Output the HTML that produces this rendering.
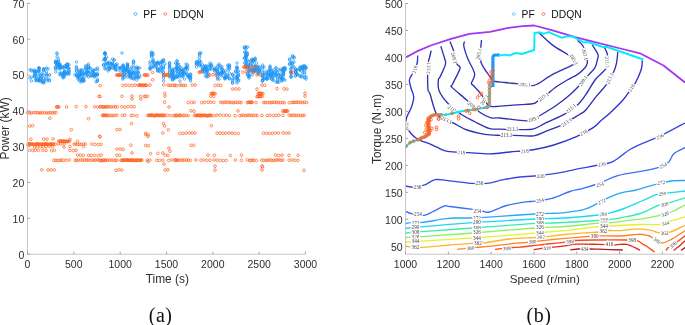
<!DOCTYPE html>
<html><head><meta charset="utf-8"><style>
html,body{margin:0;padding:0;background:#fff;width:685px;height:325px;overflow:hidden}
svg{display:block;will-change:transform}
</style></head><body>
<svg width="685" height="325" viewBox="0 0 685 325">
<rect width="685" height="325" fill="#fff"/>
<g fill="none" stroke="#1c94f4" stroke-width="0.7"><circle cx="29.9" cy="77.9" r="1.25"/><circle cx="31.5" cy="70.0" r="1.25"/><circle cx="30.0" cy="69.9" r="1.25"/><circle cx="31.6" cy="70.9" r="1.25"/><circle cx="31.6" cy="77.0" r="1.25"/><circle cx="31.4" cy="81.0" r="1.25"/><circle cx="34.4" cy="72.1" r="1.25"/><circle cx="34.5" cy="75.0" r="1.25"/><circle cx="34.4" cy="69.9" r="1.25"/><circle cx="34.5" cy="72.0" r="1.25"/><circle cx="34.5" cy="76.0" r="1.25"/><circle cx="34.5" cy="74.1" r="1.25"/><circle cx="34.5" cy="76.9" r="1.25"/><circle cx="34.6" cy="71.0" r="1.25"/><circle cx="36.0" cy="79.0" r="1.25"/><circle cx="37.5" cy="79.0" r="1.25"/><circle cx="36.0" cy="80.1" r="1.25"/><circle cx="36.0" cy="72.0" r="1.25"/><circle cx="37.6" cy="80.0" r="1.25"/><circle cx="36.0" cy="71.0" r="1.25"/><circle cx="35.9" cy="72.1" r="1.25"/><circle cx="35.9" cy="75.1" r="1.25"/><circle cx="36.0" cy="77.1" r="1.25"/><circle cx="37.6" cy="74.0" r="1.25"/><circle cx="36.1" cy="80.9" r="1.25"/><circle cx="38.9" cy="71.0" r="1.25"/><circle cx="39.0" cy="68.0" r="1.25"/><circle cx="39.0" cy="81.0" r="1.25"/><circle cx="39.0" cy="76.9" r="1.25"/><circle cx="39.1" cy="80.1" r="1.25"/><circle cx="39.0" cy="70.0" r="1.25"/><circle cx="38.9" cy="70.9" r="1.25"/><circle cx="38.9" cy="67.9" r="1.25"/><circle cx="39.0" cy="68.1" r="1.25"/><circle cx="38.9" cy="72.0" r="1.25"/><circle cx="38.9" cy="80.1" r="1.25"/><circle cx="39.0" cy="68.9" r="1.25"/><circle cx="39.0" cy="79.9" r="1.25"/><circle cx="40.6" cy="77.9" r="1.25"/><circle cx="40.4" cy="78.1" r="1.25"/><circle cx="42.0" cy="75.0" r="1.25"/><circle cx="40.6" cy="78.1" r="1.25"/><circle cx="40.4" cy="81.1" r="1.25"/><circle cx="42.1" cy="81.0" r="1.25"/><circle cx="40.5" cy="75.9" r="1.25"/><circle cx="40.5" cy="75.0" r="1.25"/><circle cx="42.0" cy="82.1" r="1.25"/><circle cx="42.0" cy="73.9" r="1.25"/><circle cx="40.4" cy="79.1" r="1.25"/><circle cx="43.5" cy="78.1" r="1.25"/><circle cx="43.5" cy="82.1" r="1.25"/><circle cx="43.5" cy="70.1" r="1.25"/><circle cx="43.6" cy="83.0" r="1.25"/><circle cx="43.6" cy="78.9" r="1.25"/><circle cx="43.4" cy="82.1" r="1.25"/><circle cx="43.5" cy="68.9" r="1.25"/><circle cx="43.5" cy="75.1" r="1.25"/><circle cx="43.6" cy="80.9" r="1.25"/><circle cx="43.5" cy="71.0" r="1.25"/><circle cx="43.5" cy="69.1" r="1.25"/><circle cx="46.5" cy="76.1" r="1.25"/><circle cx="46.6" cy="75.0" r="1.25"/><circle cx="46.4" cy="73.9" r="1.25"/><circle cx="45.1" cy="69.0" r="1.25"/><circle cx="46.5" cy="72.0" r="1.25"/><circle cx="46.6" cy="68.0" r="1.25"/><circle cx="46.5" cy="79.0" r="1.25"/><circle cx="46.6" cy="81.0" r="1.25"/><circle cx="49.5" cy="75.0" r="1.25"/><circle cx="49.5" cy="75.1" r="1.25"/><circle cx="49.6" cy="81.0" r="1.25"/><circle cx="49.6" cy="79.9" r="1.25"/><circle cx="48.0" cy="68.9" r="1.25"/><circle cx="48.0" cy="79.1" r="1.25"/><circle cx="55.5" cy="67.9" r="1.25"/><circle cx="55.6" cy="63.1" r="1.25"/><circle cx="55.5" cy="72.1" r="1.25"/><circle cx="55.5" cy="67.0" r="1.25"/><circle cx="55.5" cy="68.9" r="1.25"/><circle cx="55.5" cy="61.0" r="1.25"/><circle cx="55.5" cy="62.1" r="1.25"/><circle cx="55.6" cy="62.0" r="1.25"/><circle cx="57.1" cy="56.9" r="1.25"/><circle cx="58.6" cy="67.0" r="1.25"/><circle cx="57.1" cy="62.0" r="1.25"/><circle cx="56.9" cy="64.0" r="1.25"/><circle cx="57.1" cy="63.1" r="1.25"/><circle cx="57.1" cy="54.1" r="1.25"/><circle cx="58.5" cy="62.1" r="1.25"/><circle cx="56.9" cy="61.9" r="1.25"/><circle cx="56.9" cy="52.9" r="1.25"/><circle cx="57.0" cy="66.0" r="1.25"/><circle cx="58.4" cy="58.9" r="1.25"/><circle cx="56.9" cy="65.0" r="1.25"/><circle cx="57.0" cy="68.9" r="1.25"/><circle cx="58.5" cy="61.1" r="1.25"/><circle cx="58.5" cy="64.1" r="1.25"/><circle cx="58.6" cy="65.0" r="1.25"/><circle cx="60.0" cy="64.9" r="1.25"/><circle cx="60.0" cy="66.9" r="1.25"/><circle cx="60.1" cy="74.0" r="1.25"/><circle cx="59.9" cy="68.0" r="1.25"/><circle cx="60.0" cy="67.1" r="1.25"/><circle cx="61.5" cy="67.1" r="1.25"/><circle cx="60.0" cy="64.0" r="1.25"/><circle cx="60.0" cy="66.0" r="1.25"/><circle cx="58.5" cy="65.0" r="1.25"/><circle cx="59.9" cy="67.9" r="1.25"/><circle cx="60.0" cy="73.0" r="1.25"/><circle cx="60.1" cy="69.0" r="1.25"/><circle cx="61.4" cy="73.0" r="1.25"/><circle cx="60.1" cy="75.0" r="1.25"/><circle cx="60.1" cy="66.0" r="1.25"/><circle cx="63.1" cy="76.1" r="1.25"/><circle cx="64.6" cy="74.0" r="1.25"/><circle cx="62.9" cy="67.0" r="1.25"/><circle cx="63.1" cy="73.0" r="1.25"/><circle cx="64.5" cy="71.9" r="1.25"/><circle cx="64.5" cy="72.0" r="1.25"/><circle cx="64.4" cy="75.0" r="1.25"/><circle cx="63.0" cy="74.9" r="1.25"/><circle cx="64.6" cy="72.0" r="1.25"/><circle cx="63.0" cy="75.0" r="1.25"/><circle cx="64.4" cy="68.0" r="1.25"/><circle cx="64.5" cy="72.9" r="1.25"/><circle cx="63.0" cy="74.0" r="1.25"/><circle cx="62.9" cy="76.9" r="1.25"/><circle cx="64.6" cy="66.0" r="1.25"/><circle cx="64.6" cy="71.0" r="1.25"/><circle cx="63.1" cy="68.0" r="1.25"/><circle cx="63.0" cy="77.9" r="1.25"/><circle cx="64.5" cy="77.0" r="1.25"/><circle cx="67.6" cy="67.9" r="1.25"/><circle cx="66.0" cy="67.0" r="1.25"/><circle cx="66.0" cy="66.1" r="1.25"/><circle cx="66.1" cy="71.9" r="1.25"/><circle cx="69.0" cy="73.0" r="1.25"/><circle cx="67.5" cy="74.0" r="1.25"/><circle cx="67.5" cy="64.9" r="1.25"/><circle cx="66.1" cy="65.1" r="1.25"/><circle cx="67.5" cy="67.9" r="1.25"/><circle cx="67.6" cy="73.1" r="1.25"/><circle cx="69.1" cy="74.0" r="1.25"/><circle cx="68.9" cy="71.0" r="1.25"/><circle cx="69.0" cy="64.9" r="1.25"/><circle cx="68.9" cy="68.0" r="1.25"/><circle cx="69.0" cy="69.0" r="1.25"/><circle cx="67.4" cy="64.1" r="1.25"/><circle cx="67.4" cy="73.1" r="1.25"/><circle cx="67.4" cy="63.9" r="1.25"/><circle cx="67.4" cy="65.0" r="1.25"/><circle cx="69.1" cy="71.0" r="1.25"/><circle cx="67.5" cy="67.0" r="1.25"/><circle cx="66.0" cy="73.9" r="1.25"/><circle cx="76.5" cy="73.9" r="1.25"/><circle cx="76.4" cy="67.0" r="1.25"/><circle cx="76.6" cy="74.9" r="1.25"/><circle cx="75.0" cy="75.0" r="1.25"/><circle cx="76.4" cy="67.1" r="1.25"/><circle cx="76.6" cy="75.9" r="1.25"/><circle cx="76.4" cy="69.0" r="1.25"/><circle cx="76.5" cy="71.1" r="1.25"/><circle cx="76.5" cy="62.1" r="1.25"/><circle cx="76.6" cy="71.0" r="1.25"/><circle cx="78.0" cy="77.0" r="1.25"/><circle cx="77.9" cy="76.0" r="1.25"/><circle cx="79.4" cy="76.9" r="1.25"/><circle cx="78.0" cy="79.0" r="1.25"/><circle cx="79.5" cy="73.9" r="1.25"/><circle cx="79.5" cy="74.9" r="1.25"/><circle cx="79.5" cy="76.0" r="1.25"/><circle cx="79.6" cy="73.9" r="1.25"/><circle cx="78.0" cy="76.9" r="1.25"/><circle cx="81.0" cy="74.9" r="1.25"/><circle cx="81.0" cy="79.9" r="1.25"/><circle cx="79.6" cy="72.1" r="1.25"/><circle cx="80.9" cy="71.0" r="1.25"/><circle cx="81.1" cy="70.0" r="1.25"/><circle cx="79.6" cy="69.9" r="1.25"/><circle cx="79.5" cy="81.1" r="1.25"/><circle cx="81.1" cy="82.0" r="1.25"/><circle cx="79.6" cy="78.9" r="1.25"/><circle cx="81.0" cy="74.0" r="1.25"/><circle cx="79.4" cy="72.0" r="1.25"/><circle cx="83.9" cy="80.9" r="1.25"/><circle cx="82.6" cy="79.0" r="1.25"/><circle cx="82.5" cy="74.1" r="1.25"/><circle cx="82.5" cy="79.9" r="1.25"/><circle cx="82.6" cy="77.9" r="1.25"/><circle cx="82.4" cy="80.0" r="1.25"/><circle cx="82.6" cy="74.0" r="1.25"/><circle cx="84.0" cy="73.0" r="1.25"/><circle cx="82.5" cy="70.1" r="1.25"/><circle cx="84.0" cy="80.9" r="1.25"/><circle cx="82.5" cy="81.1" r="1.25"/><circle cx="82.5" cy="75.0" r="1.25"/><circle cx="83.9" cy="79.0" r="1.25"/><circle cx="84.1" cy="77.0" r="1.25"/><circle cx="82.5" cy="78.9" r="1.25"/><circle cx="82.6" cy="71.9" r="1.25"/><circle cx="85.5" cy="68.1" r="1.25"/><circle cx="90.1" cy="67.9" r="1.25"/><circle cx="85.5" cy="74.0" r="1.25"/><circle cx="87.0" cy="72.0" r="1.25"/><circle cx="88.6" cy="72.9" r="1.25"/><circle cx="88.5" cy="72.0" r="1.25"/><circle cx="88.4" cy="66.9" r="1.25"/><circle cx="87.1" cy="72.0" r="1.25"/><circle cx="87.1" cy="70.9" r="1.25"/><circle cx="88.5" cy="76.9" r="1.25"/><circle cx="87.1" cy="75.1" r="1.25"/><circle cx="85.5" cy="65.9" r="1.25"/><circle cx="90.0" cy="76.0" r="1.25"/><circle cx="90.0" cy="68.1" r="1.25"/><circle cx="89.9" cy="72.0" r="1.25"/><circle cx="87.0" cy="65.9" r="1.25"/><circle cx="87.0" cy="72.9" r="1.25"/><circle cx="85.5" cy="72.9" r="1.25"/><circle cx="86.9" cy="75.0" r="1.25"/><circle cx="85.4" cy="69.0" r="1.25"/><circle cx="88.4" cy="66.0" r="1.25"/><circle cx="87.0" cy="68.1" r="1.25"/><circle cx="87.0" cy="69.0" r="1.25"/><circle cx="88.6" cy="68.9" r="1.25"/><circle cx="88.4" cy="64.1" r="1.25"/><circle cx="93.1" cy="73.1" r="1.25"/><circle cx="92.9" cy="70.0" r="1.25"/><circle cx="93.1" cy="71.0" r="1.25"/><circle cx="93.0" cy="71.0" r="1.25"/><circle cx="93.1" cy="71.9" r="1.25"/><circle cx="94.6" cy="73.9" r="1.25"/><circle cx="94.5" cy="77.0" r="1.25"/><circle cx="94.4" cy="75.9" r="1.25"/><circle cx="93.1" cy="75.9" r="1.25"/><circle cx="91.5" cy="74.0" r="1.25"/><circle cx="91.4" cy="75.1" r="1.25"/><circle cx="91.5" cy="75.9" r="1.25"/><circle cx="94.4" cy="74.0" r="1.25"/><circle cx="97.5" cy="74.0" r="1.25"/><circle cx="96.0" cy="74.0" r="1.25"/><circle cx="94.5" cy="74.9" r="1.25"/><circle cx="97.6" cy="73.9" r="1.25"/><circle cx="95.9" cy="69.0" r="1.25"/><circle cx="96.0" cy="74.9" r="1.25"/><circle cx="97.4" cy="79.1" r="1.25"/><circle cx="95.9" cy="75.0" r="1.25"/><circle cx="97.4" cy="81.1" r="1.25"/><circle cx="97.6" cy="70.1" r="1.25"/><circle cx="96.1" cy="81.9" r="1.25"/><circle cx="97.6" cy="68.0" r="1.25"/><circle cx="97.4" cy="81.0" r="1.25"/><circle cx="97.4" cy="75.1" r="1.25"/><circle cx="96.0" cy="75.0" r="1.25"/><circle cx="94.4" cy="70.1" r="1.25"/><circle cx="103.6" cy="60.1" r="1.25"/><circle cx="103.5" cy="65.0" r="1.25"/><circle cx="103.5" cy="65.1" r="1.25"/><circle cx="103.6" cy="65.0" r="1.25"/><circle cx="106.5" cy="64.0" r="1.25"/><circle cx="105.1" cy="57.9" r="1.25"/><circle cx="106.4" cy="62.0" r="1.25"/><circle cx="105.1" cy="59.0" r="1.25"/><circle cx="104.9" cy="52.9" r="1.25"/><circle cx="105.0" cy="59.1" r="1.25"/><circle cx="104.9" cy="59.9" r="1.25"/><circle cx="105.0" cy="54.0" r="1.25"/><circle cx="105.0" cy="58.9" r="1.25"/><circle cx="105.0" cy="54.1" r="1.25"/><circle cx="104.9" cy="54.0" r="1.25"/><circle cx="106.6" cy="57.0" r="1.25"/><circle cx="105.0" cy="59.0" r="1.25"/><circle cx="105.0" cy="64.0" r="1.25"/><circle cx="105.1" cy="53.0" r="1.25"/><circle cx="104.9" cy="53.1" r="1.25"/><circle cx="105.0" cy="68.9" r="1.25"/><circle cx="105.0" cy="68.0" r="1.25"/><circle cx="106.4" cy="67.0" r="1.25"/><circle cx="108.1" cy="69.0" r="1.25"/><circle cx="109.5" cy="63.9" r="1.25"/><circle cx="107.9" cy="65.0" r="1.25"/><circle cx="109.6" cy="69.0" r="1.25"/><circle cx="109.5" cy="69.0" r="1.25"/><circle cx="108.0" cy="70.9" r="1.25"/><circle cx="110.9" cy="63.9" r="1.25"/><circle cx="111.0" cy="64.1" r="1.25"/><circle cx="109.5" cy="68.1" r="1.25"/><circle cx="109.6" cy="68.1" r="1.25"/><circle cx="109.5" cy="67.0" r="1.25"/><circle cx="108.0" cy="63.1" r="1.25"/><circle cx="107.9" cy="63.1" r="1.25"/><circle cx="109.4" cy="61.9" r="1.25"/><circle cx="109.5" cy="68.0" r="1.25"/><circle cx="112.5" cy="63.1" r="1.25"/><circle cx="114.1" cy="60.1" r="1.25"/><circle cx="114.1" cy="59.9" r="1.25"/><circle cx="112.4" cy="68.1" r="1.25"/><circle cx="114.1" cy="66.0" r="1.25"/><circle cx="112.4" cy="66.9" r="1.25"/><circle cx="112.5" cy="59.0" r="1.25"/><circle cx="112.5" cy="63.0" r="1.25"/><circle cx="114.0" cy="68.0" r="1.25"/><circle cx="112.5" cy="64.1" r="1.25"/><circle cx="112.5" cy="64.9" r="1.25"/><circle cx="116.9" cy="69.9" r="1.25"/><circle cx="115.4" cy="69.1" r="1.25"/><circle cx="115.5" cy="67.1" r="1.25"/><circle cx="115.5" cy="66.1" r="1.25"/><circle cx="115.6" cy="64.9" r="1.25"/><circle cx="117.0" cy="64.0" r="1.25"/><circle cx="115.6" cy="69.1" r="1.25"/><circle cx="117.0" cy="66.0" r="1.25"/><circle cx="115.5" cy="70.0" r="1.25"/><circle cx="115.6" cy="65.0" r="1.25"/><circle cx="120.1" cy="71.0" r="1.25"/><circle cx="120.0" cy="68.1" r="1.25"/><circle cx="120.0" cy="68.0" r="1.25"/><circle cx="119.9" cy="68.0" r="1.25"/><circle cx="120.1" cy="67.9" r="1.25"/><circle cx="123.0" cy="71.9" r="1.25"/><circle cx="122.9" cy="79.0" r="1.25"/><circle cx="123.1" cy="66.0" r="1.25"/><circle cx="124.6" cy="75.0" r="1.25"/><circle cx="123.0" cy="65.9" r="1.25"/><circle cx="122.9" cy="70.1" r="1.25"/><circle cx="124.5" cy="73.0" r="1.25"/><circle cx="123.0" cy="70.0" r="1.25"/><circle cx="122.9" cy="75.1" r="1.25"/><circle cx="124.5" cy="77.0" r="1.25"/><circle cx="124.5" cy="69.0" r="1.25"/><circle cx="123.0" cy="76.0" r="1.25"/><circle cx="124.5" cy="70.0" r="1.25"/><circle cx="124.5" cy="74.1" r="1.25"/><circle cx="123.1" cy="65.0" r="1.25"/><circle cx="123.1" cy="78.0" r="1.25"/><circle cx="123.0" cy="72.0" r="1.25"/><circle cx="123.1" cy="67.0" r="1.25"/><circle cx="123.1" cy="66.1" r="1.25"/><circle cx="122.9" cy="68.0" r="1.25"/><circle cx="126.0" cy="71.0" r="1.25"/><circle cx="126.0" cy="68.0" r="1.25"/><circle cx="127.5" cy="68.1" r="1.25"/><circle cx="127.4" cy="66.1" r="1.25"/><circle cx="127.5" cy="71.0" r="1.25"/><circle cx="126.1" cy="70.0" r="1.25"/><circle cx="127.6" cy="71.0" r="1.25"/><circle cx="127.4" cy="77.0" r="1.25"/><circle cx="127.5" cy="70.0" r="1.25"/><circle cx="127.4" cy="64.0" r="1.25"/><circle cx="125.9" cy="69.0" r="1.25"/><circle cx="127.5" cy="74.0" r="1.25"/><circle cx="127.6" cy="65.1" r="1.25"/><circle cx="127.6" cy="66.1" r="1.25"/><circle cx="127.4" cy="64.1" r="1.25"/><circle cx="127.5" cy="65.9" r="1.25"/><circle cx="126.1" cy="69.9" r="1.25"/><circle cx="127.6" cy="67.1" r="1.25"/><circle cx="130.6" cy="76.1" r="1.25"/><circle cx="130.6" cy="69.0" r="1.25"/><circle cx="130.5" cy="73.1" r="1.25"/><circle cx="130.5" cy="69.9" r="1.25"/><circle cx="130.4" cy="72.9" r="1.25"/><circle cx="130.5" cy="74.1" r="1.25"/><circle cx="129.1" cy="73.0" r="1.25"/><circle cx="130.6" cy="72.0" r="1.25"/><circle cx="130.4" cy="75.0" r="1.25"/><circle cx="129.0" cy="76.1" r="1.25"/><circle cx="129.1" cy="74.0" r="1.25"/><circle cx="130.4" cy="76.0" r="1.25"/><circle cx="129.1" cy="72.0" r="1.25"/><circle cx="130.5" cy="78.0" r="1.25"/><circle cx="133.5" cy="70.0" r="1.25"/><circle cx="133.6" cy="73.1" r="1.25"/><circle cx="133.5" cy="67.0" r="1.25"/><circle cx="133.6" cy="62.0" r="1.25"/><circle cx="133.5" cy="62.0" r="1.25"/><circle cx="131.9" cy="78.0" r="1.25"/><circle cx="133.6" cy="78.0" r="1.25"/><circle cx="133.5" cy="74.0" r="1.25"/><circle cx="133.4" cy="74.0" r="1.25"/><circle cx="133.4" cy="63.9" r="1.25"/><circle cx="133.6" cy="73.0" r="1.25"/><circle cx="133.6" cy="72.0" r="1.25"/><circle cx="132.0" cy="67.0" r="1.25"/><circle cx="131.9" cy="76.0" r="1.25"/><circle cx="133.5" cy="61.0" r="1.25"/><circle cx="133.6" cy="79.0" r="1.25"/><circle cx="136.4" cy="75.9" r="1.25"/><circle cx="136.4" cy="67.0" r="1.25"/><circle cx="136.6" cy="68.1" r="1.25"/><circle cx="136.4" cy="76.9" r="1.25"/><circle cx="137.9" cy="68.1" r="1.25"/><circle cx="138.1" cy="76.9" r="1.25"/><circle cx="138.0" cy="73.1" r="1.25"/><circle cx="136.6" cy="76.9" r="1.25"/><circle cx="135.0" cy="77.9" r="1.25"/><circle cx="136.5" cy="69.1" r="1.25"/><circle cx="137.9" cy="72.0" r="1.25"/><circle cx="136.5" cy="76.0" r="1.25"/><circle cx="136.6" cy="80.1" r="1.25"/><circle cx="138.0" cy="68.1" r="1.25"/><circle cx="138.1" cy="72.0" r="1.25"/><circle cx="139.6" cy="75.0" r="1.25"/><circle cx="136.6" cy="72.0" r="1.25"/><circle cx="138.1" cy="78.0" r="1.25"/><circle cx="135.0" cy="73.0" r="1.25"/><circle cx="139.6" cy="68.1" r="1.25"/><circle cx="139.6" cy="77.1" r="1.25"/><circle cx="136.4" cy="75.1" r="1.25"/><circle cx="150.1" cy="68.9" r="1.25"/><circle cx="150.0" cy="63.9" r="1.25"/><circle cx="150.1" cy="68.0" r="1.25"/><circle cx="150.1" cy="66.9" r="1.25"/><circle cx="150.1" cy="69.0" r="1.25"/><circle cx="150.0" cy="61.9" r="1.25"/><circle cx="151.5" cy="57.0" r="1.25"/><circle cx="151.5" cy="53.9" r="1.25"/><circle cx="153.0" cy="53.0" r="1.25"/><circle cx="152.9" cy="61.0" r="1.25"/><circle cx="151.4" cy="52.1" r="1.25"/><circle cx="153.0" cy="61.0" r="1.25"/><circle cx="153.0" cy="67.1" r="1.25"/><circle cx="153.1" cy="54.9" r="1.25"/><circle cx="151.4" cy="52.9" r="1.25"/><circle cx="153.1" cy="59.1" r="1.25"/><circle cx="151.6" cy="55.0" r="1.25"/><circle cx="153.1" cy="62.0" r="1.25"/><circle cx="151.4" cy="67.1" r="1.25"/><circle cx="151.4" cy="55.0" r="1.25"/><circle cx="153.1" cy="64.9" r="1.25"/><circle cx="156.0" cy="66.1" r="1.25"/><circle cx="154.4" cy="67.1" r="1.25"/><circle cx="154.5" cy="63.9" r="1.25"/><circle cx="154.4" cy="63.9" r="1.25"/><circle cx="155.9" cy="65.9" r="1.25"/><circle cx="154.6" cy="64.1" r="1.25"/><circle cx="156.1" cy="63.0" r="1.25"/><circle cx="157.6" cy="70.0" r="1.25"/><circle cx="157.5" cy="69.0" r="1.25"/><circle cx="157.4" cy="62.9" r="1.25"/><circle cx="159.0" cy="63.1" r="1.25"/><circle cx="157.5" cy="63.0" r="1.25"/><circle cx="159.0" cy="63.0" r="1.25"/><circle cx="157.6" cy="62.1" r="1.25"/><circle cx="157.6" cy="67.9" r="1.25"/><circle cx="157.5" cy="63.9" r="1.25"/><circle cx="157.6" cy="71.1" r="1.25"/><circle cx="157.5" cy="69.9" r="1.25"/><circle cx="159.0" cy="70.9" r="1.25"/><circle cx="162.0" cy="60.9" r="1.25"/><circle cx="162.0" cy="62.0" r="1.25"/><circle cx="161.9" cy="66.9" r="1.25"/><circle cx="160.6" cy="68.9" r="1.25"/><circle cx="160.4" cy="68.0" r="1.25"/><circle cx="162.0" cy="61.9" r="1.25"/><circle cx="162.0" cy="68.9" r="1.25"/><circle cx="162.0" cy="71.1" r="1.25"/><circle cx="160.4" cy="72.0" r="1.25"/><circle cx="162.0" cy="62.1" r="1.25"/><circle cx="160.4" cy="64.0" r="1.25"/><circle cx="160.5" cy="65.0" r="1.25"/><circle cx="163.5" cy="78.1" r="1.25"/><circle cx="163.5" cy="68.1" r="1.25"/><circle cx="163.6" cy="81.0" r="1.25"/><circle cx="163.5" cy="71.9" r="1.25"/><circle cx="164.9" cy="63.9" r="1.25"/><circle cx="163.6" cy="59.9" r="1.25"/><circle cx="163.4" cy="60.0" r="1.25"/><circle cx="163.5" cy="74.9" r="1.25"/><circle cx="163.5" cy="60.9" r="1.25"/><circle cx="163.5" cy="65.9" r="1.25"/><circle cx="163.4" cy="73.1" r="1.25"/><circle cx="163.5" cy="75.9" r="1.25"/><circle cx="163.6" cy="68.0" r="1.25"/><circle cx="169.5" cy="68.1" r="1.25"/><circle cx="169.5" cy="66.0" r="1.25"/><circle cx="169.6" cy="75.1" r="1.25"/><circle cx="169.6" cy="63.0" r="1.25"/><circle cx="169.6" cy="66.0" r="1.25"/><circle cx="169.5" cy="69.9" r="1.25"/><circle cx="169.5" cy="62.9" r="1.25"/><circle cx="171.1" cy="76.0" r="1.25"/><circle cx="169.6" cy="75.9" r="1.25"/><circle cx="169.5" cy="73.0" r="1.25"/><circle cx="169.6" cy="72.0" r="1.25"/><circle cx="169.5" cy="77.0" r="1.25"/><circle cx="169.5" cy="64.0" r="1.25"/><circle cx="169.5" cy="67.0" r="1.25"/><circle cx="172.4" cy="69.9" r="1.25"/><circle cx="172.5" cy="71.9" r="1.25"/><circle cx="172.5" cy="79.0" r="1.25"/><circle cx="172.5" cy="71.0" r="1.25"/><circle cx="172.5" cy="76.0" r="1.25"/><circle cx="172.4" cy="71.0" r="1.25"/><circle cx="172.5" cy="69.0" r="1.25"/><circle cx="173.9" cy="75.0" r="1.25"/><circle cx="172.6" cy="72.1" r="1.25"/><circle cx="172.4" cy="79.0" r="1.25"/><circle cx="172.5" cy="74.0" r="1.25"/><circle cx="172.4" cy="80.0" r="1.25"/><circle cx="172.5" cy="73.0" r="1.25"/><circle cx="174.1" cy="78.0" r="1.25"/><circle cx="174.0" cy="78.0" r="1.25"/><circle cx="174.0" cy="78.9" r="1.25"/><circle cx="173.9" cy="78.0" r="1.25"/><circle cx="172.6" cy="75.0" r="1.25"/><circle cx="174.1" cy="76.0" r="1.25"/><circle cx="172.5" cy="77.0" r="1.25"/><circle cx="177.0" cy="67.0" r="1.25"/><circle cx="177.1" cy="69.0" r="1.25"/><circle cx="175.5" cy="63.0" r="1.25"/><circle cx="176.9" cy="76.0" r="1.25"/><circle cx="178.6" cy="76.9" r="1.25"/><circle cx="177.1" cy="60.9" r="1.25"/><circle cx="177.0" cy="76.1" r="1.25"/><circle cx="177.1" cy="70.0" r="1.25"/><circle cx="177.1" cy="72.0" r="1.25"/><circle cx="175.5" cy="68.0" r="1.25"/><circle cx="177.1" cy="77.0" r="1.25"/><circle cx="177.0" cy="77.0" r="1.25"/><circle cx="177.1" cy="64.0" r="1.25"/><circle cx="178.6" cy="68.9" r="1.25"/><circle cx="178.5" cy="74.1" r="1.25"/><circle cx="178.5" cy="64.0" r="1.25"/><circle cx="177.0" cy="63.9" r="1.25"/><circle cx="177.0" cy="67.1" r="1.25"/><circle cx="176.9" cy="68.1" r="1.25"/><circle cx="177.0" cy="61.0" r="1.25"/><circle cx="178.5" cy="71.9" r="1.25"/><circle cx="177.0" cy="65.0" r="1.25"/><circle cx="175.4" cy="72.9" r="1.25"/><circle cx="175.4" cy="70.1" r="1.25"/><circle cx="180.1" cy="66.9" r="1.25"/><circle cx="181.5" cy="77.0" r="1.25"/><circle cx="180.0" cy="67.1" r="1.25"/><circle cx="180.0" cy="73.0" r="1.25"/><circle cx="180.1" cy="75.1" r="1.25"/><circle cx="180.0" cy="69.9" r="1.25"/><circle cx="181.6" cy="71.1" r="1.25"/><circle cx="181.5" cy="75.1" r="1.25"/><circle cx="180.1" cy="70.0" r="1.25"/><circle cx="181.4" cy="71.1" r="1.25"/><circle cx="180.1" cy="69.9" r="1.25"/><circle cx="179.9" cy="81.0" r="1.25"/><circle cx="179.9" cy="74.0" r="1.25"/><circle cx="182.9" cy="70.1" r="1.25"/><circle cx="182.9" cy="70.0" r="1.25"/><circle cx="182.9" cy="76.0" r="1.25"/><circle cx="183.0" cy="69.0" r="1.25"/><circle cx="184.4" cy="74.1" r="1.25"/><circle cx="184.4" cy="72.0" r="1.25"/><circle cx="183.1" cy="71.1" r="1.25"/><circle cx="182.9" cy="73.9" r="1.25"/><circle cx="184.5" cy="79.0" r="1.25"/><circle cx="182.9" cy="75.9" r="1.25"/><circle cx="184.4" cy="74.0" r="1.25"/><circle cx="183.1" cy="73.0" r="1.25"/><circle cx="183.0" cy="72.9" r="1.25"/><circle cx="183.1" cy="72.0" r="1.25"/><circle cx="183.0" cy="73.0" r="1.25"/><circle cx="185.9" cy="67.9" r="1.25"/><circle cx="186.0" cy="68.0" r="1.25"/><circle cx="187.6" cy="76.1" r="1.25"/><circle cx="186.0" cy="64.0" r="1.25"/><circle cx="187.5" cy="70.0" r="1.25"/><circle cx="187.4" cy="75.0" r="1.25"/><circle cx="187.4" cy="66.1" r="1.25"/><circle cx="187.5" cy="64.9" r="1.25"/><circle cx="185.9" cy="68.0" r="1.25"/><circle cx="186.0" cy="72.9" r="1.25"/><circle cx="187.5" cy="74.0" r="1.25"/><circle cx="186.0" cy="68.9" r="1.25"/><circle cx="187.6" cy="67.9" r="1.25"/><circle cx="186.1" cy="67.1" r="1.25"/><circle cx="190.4" cy="78.0" r="1.25"/><circle cx="190.6" cy="74.9" r="1.25"/><circle cx="190.5" cy="81.0" r="1.25"/><circle cx="190.6" cy="78.0" r="1.25"/><circle cx="189.0" cy="76.0" r="1.25"/><circle cx="190.4" cy="78.9" r="1.25"/><circle cx="190.6" cy="74.0" r="1.25"/><circle cx="190.5" cy="76.9" r="1.25"/><circle cx="189.0" cy="75.9" r="1.25"/><circle cx="188.9" cy="78.0" r="1.25"/><circle cx="188.9" cy="77.0" r="1.25"/><circle cx="190.5" cy="75.1" r="1.25"/><circle cx="196.5" cy="64.1" r="1.25"/><circle cx="196.6" cy="62.0" r="1.25"/><circle cx="196.5" cy="67.1" r="1.25"/><circle cx="196.5" cy="63.9" r="1.25"/><circle cx="196.5" cy="63.0" r="1.25"/><circle cx="196.4" cy="64.0" r="1.25"/><circle cx="196.4" cy="61.9" r="1.25"/><circle cx="198.1" cy="62.0" r="1.25"/><circle cx="201.0" cy="53.0" r="1.25"/><circle cx="199.4" cy="59.9" r="1.25"/><circle cx="201.0" cy="62.1" r="1.25"/><circle cx="199.5" cy="54.9" r="1.25"/><circle cx="199.6" cy="65.0" r="1.25"/><circle cx="199.5" cy="65.1" r="1.25"/><circle cx="199.4" cy="65.0" r="1.25"/><circle cx="199.5" cy="57.1" r="1.25"/><circle cx="199.4" cy="61.0" r="1.25"/><circle cx="201.0" cy="66.1" r="1.25"/><circle cx="199.5" cy="54.0" r="1.25"/><circle cx="199.4" cy="62.9" r="1.25"/><circle cx="199.6" cy="52.9" r="1.25"/><circle cx="202.4" cy="69.9" r="1.25"/><circle cx="204.1" cy="70.0" r="1.25"/><circle cx="202.5" cy="68.0" r="1.25"/><circle cx="202.5" cy="69.1" r="1.25"/><circle cx="203.9" cy="66.0" r="1.25"/><circle cx="202.5" cy="64.9" r="1.25"/><circle cx="202.5" cy="72.1" r="1.25"/><circle cx="204.1" cy="72.0" r="1.25"/><circle cx="203.9" cy="69.0" r="1.25"/><circle cx="202.5" cy="71.0" r="1.25"/><circle cx="207.0" cy="69.1" r="1.25"/><circle cx="205.4" cy="73.0" r="1.25"/><circle cx="205.5" cy="69.0" r="1.25"/><circle cx="207.0" cy="72.0" r="1.25"/><circle cx="205.4" cy="76.0" r="1.25"/><circle cx="205.6" cy="66.9" r="1.25"/><circle cx="207.0" cy="71.0" r="1.25"/><circle cx="205.5" cy="66.0" r="1.25"/><circle cx="206.9" cy="69.9" r="1.25"/><circle cx="207.1" cy="71.0" r="1.25"/><circle cx="206.9" cy="77.0" r="1.25"/><circle cx="205.6" cy="68.9" r="1.25"/><circle cx="208.5" cy="73.9" r="1.25"/><circle cx="206.9" cy="67.0" r="1.25"/><circle cx="205.5" cy="67.0" r="1.25"/><circle cx="207.0" cy="76.0" r="1.25"/><circle cx="208.5" cy="76.1" r="1.25"/><circle cx="205.5" cy="69.1" r="1.25"/><circle cx="207.1" cy="66.0" r="1.25"/><circle cx="207.1" cy="73.9" r="1.25"/><circle cx="211.4" cy="66.1" r="1.25"/><circle cx="210.1" cy="67.0" r="1.25"/><circle cx="210.0" cy="69.0" r="1.25"/><circle cx="209.9" cy="63.1" r="1.25"/><circle cx="210.0" cy="65.0" r="1.25"/><circle cx="209.9" cy="69.0" r="1.25"/><circle cx="211.6" cy="68.9" r="1.25"/><circle cx="209.9" cy="66.1" r="1.25"/><circle cx="211.4" cy="64.1" r="1.25"/><circle cx="211.5" cy="65.9" r="1.25"/><circle cx="216.0" cy="74.0" r="1.25"/><circle cx="214.5" cy="69.1" r="1.25"/><circle cx="215.9" cy="69.0" r="1.25"/><circle cx="214.5" cy="71.0" r="1.25"/><circle cx="214.5" cy="69.9" r="1.25"/><circle cx="214.6" cy="67.9" r="1.25"/><circle cx="216.0" cy="70.0" r="1.25"/><circle cx="217.5" cy="72.1" r="1.25"/><circle cx="218.9" cy="73.1" r="1.25"/><circle cx="219.1" cy="74.0" r="1.25"/><circle cx="217.5" cy="77.1" r="1.25"/><circle cx="219.0" cy="68.1" r="1.25"/><circle cx="219.0" cy="74.0" r="1.25"/><circle cx="219.0" cy="64.0" r="1.25"/><circle cx="217.6" cy="71.0" r="1.25"/><circle cx="217.4" cy="68.9" r="1.25"/><circle cx="219.0" cy="65.9" r="1.25"/><circle cx="217.5" cy="76.0" r="1.25"/><circle cx="219.0" cy="79.0" r="1.25"/><circle cx="217.4" cy="73.1" r="1.25"/><circle cx="217.6" cy="71.1" r="1.25"/><circle cx="217.5" cy="79.0" r="1.25"/><circle cx="217.4" cy="66.0" r="1.25"/><circle cx="221.9" cy="69.9" r="1.25"/><circle cx="222.1" cy="72.9" r="1.25"/><circle cx="222.1" cy="71.9" r="1.25"/><circle cx="222.1" cy="68.9" r="1.25"/><circle cx="220.5" cy="75.0" r="1.25"/><circle cx="221.9" cy="69.0" r="1.25"/><circle cx="222.0" cy="73.0" r="1.25"/><circle cx="220.5" cy="66.0" r="1.25"/><circle cx="222.0" cy="72.0" r="1.25"/><circle cx="221.9" cy="76.0" r="1.25"/><circle cx="221.9" cy="72.0" r="1.25"/><circle cx="221.9" cy="66.9" r="1.25"/><circle cx="221.9" cy="74.0" r="1.25"/><circle cx="225.0" cy="77.0" r="1.25"/><circle cx="225.1" cy="78.0" r="1.25"/><circle cx="225.1" cy="74.0" r="1.25"/><circle cx="225.1" cy="70.9" r="1.25"/><circle cx="225.0" cy="78.0" r="1.25"/><circle cx="226.4" cy="76.9" r="1.25"/><circle cx="223.4" cy="71.0" r="1.25"/><circle cx="224.9" cy="79.0" r="1.25"/><circle cx="224.9" cy="77.1" r="1.25"/><circle cx="224.9" cy="77.9" r="1.25"/><circle cx="226.5" cy="76.0" r="1.25"/><circle cx="225.0" cy="73.1" r="1.25"/><circle cx="228.0" cy="65.0" r="1.25"/><circle cx="229.6" cy="65.0" r="1.25"/><circle cx="229.6" cy="79.0" r="1.25"/><circle cx="228.0" cy="68.0" r="1.25"/><circle cx="227.9" cy="76.0" r="1.25"/><circle cx="229.6" cy="67.0" r="1.25"/><circle cx="228.1" cy="78.0" r="1.25"/><circle cx="229.6" cy="69.0" r="1.25"/><circle cx="229.5" cy="73.1" r="1.25"/><circle cx="228.1" cy="70.1" r="1.25"/><circle cx="229.4" cy="78.1" r="1.25"/><circle cx="229.4" cy="66.1" r="1.25"/><circle cx="228.1" cy="66.0" r="1.25"/><circle cx="227.9" cy="74.9" r="1.25"/><circle cx="232.6" cy="81.1" r="1.25"/><circle cx="233.9" cy="76.1" r="1.25"/><circle cx="233.9" cy="78.9" r="1.25"/><circle cx="232.4" cy="74.1" r="1.25"/><circle cx="232.6" cy="75.0" r="1.25"/><circle cx="232.5" cy="75.0" r="1.25"/><circle cx="232.5" cy="78.9" r="1.25"/><circle cx="232.5" cy="83.0" r="1.25"/><circle cx="232.6" cy="83.0" r="1.25"/><circle cx="236.9" cy="67.9" r="1.25"/><circle cx="235.5" cy="71.0" r="1.25"/><circle cx="236.9" cy="77.0" r="1.25"/><circle cx="237.0" cy="77.1" r="1.25"/><circle cx="238.5" cy="71.0" r="1.25"/><circle cx="237.1" cy="71.0" r="1.25"/><circle cx="236.9" cy="82.9" r="1.25"/><circle cx="237.1" cy="68.0" r="1.25"/><circle cx="236.9" cy="66.9" r="1.25"/><circle cx="238.6" cy="80.9" r="1.25"/><circle cx="238.5" cy="76.0" r="1.25"/><circle cx="237.1" cy="63.0" r="1.25"/><circle cx="238.5" cy="75.1" r="1.25"/><circle cx="237.0" cy="78.0" r="1.25"/><circle cx="238.5" cy="74.0" r="1.25"/><circle cx="237.0" cy="76.0" r="1.25"/><circle cx="237.0" cy="68.1" r="1.25"/><circle cx="237.0" cy="73.0" r="1.25"/><circle cx="236.9" cy="81.0" r="1.25"/><circle cx="237.0" cy="78.9" r="1.25"/><circle cx="235.6" cy="72.0" r="1.25"/><circle cx="238.6" cy="79.9" r="1.25"/><circle cx="237.1" cy="78.9" r="1.25"/><circle cx="244.5" cy="48.0" r="1.25"/><circle cx="246.0" cy="55.9" r="1.25"/><circle cx="246.1" cy="61.0" r="1.25"/><circle cx="246.1" cy="62.9" r="1.25"/><circle cx="246.0" cy="56.9" r="1.25"/><circle cx="246.0" cy="53.9" r="1.25"/><circle cx="244.5" cy="46.9" r="1.25"/><circle cx="246.0" cy="52.9" r="1.25"/><circle cx="247.4" cy="60.1" r="1.25"/><circle cx="244.5" cy="63.0" r="1.25"/><circle cx="245.9" cy="56.0" r="1.25"/><circle cx="246.0" cy="55.0" r="1.25"/><circle cx="247.5" cy="55.0" r="1.25"/><circle cx="247.4" cy="67.0" r="1.25"/><circle cx="246.0" cy="58.0" r="1.25"/><circle cx="247.6" cy="47.0" r="1.25"/><circle cx="246.0" cy="64.0" r="1.25"/><circle cx="246.1" cy="56.0" r="1.25"/><circle cx="245.9" cy="61.0" r="1.25"/><circle cx="246.1" cy="48.9" r="1.25"/><circle cx="244.6" cy="47.9" r="1.25"/><circle cx="246.0" cy="47.0" r="1.25"/><circle cx="246.0" cy="68.1" r="1.25"/><circle cx="247.4" cy="53.0" r="1.25"/><circle cx="244.6" cy="52.0" r="1.25"/><circle cx="246.0" cy="65.0" r="1.25"/><circle cx="247.6" cy="65.0" r="1.25"/><circle cx="244.4" cy="58.0" r="1.25"/><circle cx="246.0" cy="59.0" r="1.25"/><circle cx="245.9" cy="66.0" r="1.25"/><circle cx="244.5" cy="58.0" r="1.25"/><circle cx="246.0" cy="52.1" r="1.25"/><circle cx="249.0" cy="75.0" r="1.25"/><circle cx="249.1" cy="69.1" r="1.25"/><circle cx="247.5" cy="72.9" r="1.25"/><circle cx="248.9" cy="71.9" r="1.25"/><circle cx="249.0" cy="66.9" r="1.25"/><circle cx="248.9" cy="76.9" r="1.25"/><circle cx="247.4" cy="75.1" r="1.25"/><circle cx="249.0" cy="66.1" r="1.25"/><circle cx="248.9" cy="62.0" r="1.25"/><circle cx="247.6" cy="66.9" r="1.25"/><circle cx="249.0" cy="70.9" r="1.25"/><circle cx="249.0" cy="75.9" r="1.25"/><circle cx="249.1" cy="67.9" r="1.25"/><circle cx="249.0" cy="65.0" r="1.25"/><circle cx="247.5" cy="74.0" r="1.25"/><circle cx="248.9" cy="75.9" r="1.25"/><circle cx="249.1" cy="78.0" r="1.25"/><circle cx="248.9" cy="70.1" r="1.25"/><circle cx="252.0" cy="59.9" r="1.25"/><circle cx="252.1" cy="74.9" r="1.25"/><circle cx="251.9" cy="70.1" r="1.25"/><circle cx="252.1" cy="70.9" r="1.25"/><circle cx="252.0" cy="63.0" r="1.25"/><circle cx="250.6" cy="63.9" r="1.25"/><circle cx="251.9" cy="69.1" r="1.25"/><circle cx="252.0" cy="59.0" r="1.25"/><circle cx="250.5" cy="61.0" r="1.25"/><circle cx="252.0" cy="70.9" r="1.25"/><circle cx="250.6" cy="65.1" r="1.25"/><circle cx="252.0" cy="60.9" r="1.25"/><circle cx="251.9" cy="68.0" r="1.25"/><circle cx="255.0" cy="60.0" r="1.25"/><circle cx="253.4" cy="61.1" r="1.25"/><circle cx="255.1" cy="58.1" r="1.25"/><circle cx="255.1" cy="66.0" r="1.25"/><circle cx="253.6" cy="60.0" r="1.25"/><circle cx="253.5" cy="65.0" r="1.25"/><circle cx="256.4" cy="65.9" r="1.25"/><circle cx="255.1" cy="67.9" r="1.25"/><circle cx="253.5" cy="71.9" r="1.25"/><circle cx="255.0" cy="69.0" r="1.25"/><circle cx="255.0" cy="70.9" r="1.25"/><circle cx="256.5" cy="62.9" r="1.25"/><circle cx="253.5" cy="66.9" r="1.25"/><circle cx="253.4" cy="59.9" r="1.25"/><circle cx="253.6" cy="72.1" r="1.25"/><circle cx="255.0" cy="69.1" r="1.25"/><circle cx="255.1" cy="59.0" r="1.25"/><circle cx="253.4" cy="71.0" r="1.25"/><circle cx="254.9" cy="69.1" r="1.25"/><circle cx="256.5" cy="69.1" r="1.25"/><circle cx="255.0" cy="71.0" r="1.25"/><circle cx="256.4" cy="71.1" r="1.25"/><circle cx="253.6" cy="60.9" r="1.25"/><circle cx="259.4" cy="70.1" r="1.25"/><circle cx="259.5" cy="69.1" r="1.25"/><circle cx="259.5" cy="73.1" r="1.25"/><circle cx="257.9" cy="71.1" r="1.25"/><circle cx="258.0" cy="73.1" r="1.25"/><circle cx="258.0" cy="66.9" r="1.25"/><circle cx="259.5" cy="71.0" r="1.25"/><circle cx="257.9" cy="69.1" r="1.25"/><circle cx="259.5" cy="67.0" r="1.25"/><circle cx="259.5" cy="71.1" r="1.25"/><circle cx="258.0" cy="67.1" r="1.25"/><circle cx="258.0" cy="74.0" r="1.25"/><circle cx="262.6" cy="75.1" r="1.25"/><circle cx="262.5" cy="81.0" r="1.25"/><circle cx="263.9" cy="78.9" r="1.25"/><circle cx="262.4" cy="67.1" r="1.25"/><circle cx="262.6" cy="69.0" r="1.25"/><circle cx="262.5" cy="80.0" r="1.25"/><circle cx="262.6" cy="80.0" r="1.25"/><circle cx="262.5" cy="72.1" r="1.25"/><circle cx="262.5" cy="76.0" r="1.25"/><circle cx="262.6" cy="65.1" r="1.25"/><circle cx="264.0" cy="72.1" r="1.25"/><circle cx="264.0" cy="77.9" r="1.25"/><circle cx="262.4" cy="81.1" r="1.25"/><circle cx="262.5" cy="74.9" r="1.25"/><circle cx="264.0" cy="74.0" r="1.25"/><circle cx="264.0" cy="79.0" r="1.25"/><circle cx="262.6" cy="77.0" r="1.25"/><circle cx="262.4" cy="75.1" r="1.25"/><circle cx="264.0" cy="67.0" r="1.25"/><circle cx="266.9" cy="77.9" r="1.25"/><circle cx="266.9" cy="73.0" r="1.25"/><circle cx="268.6" cy="72.0" r="1.25"/><circle cx="268.4" cy="74.0" r="1.25"/><circle cx="265.5" cy="75.0" r="1.25"/><circle cx="268.5" cy="72.1" r="1.25"/><circle cx="267.1" cy="77.1" r="1.25"/><circle cx="266.9" cy="79.0" r="1.25"/><circle cx="267.0" cy="79.0" r="1.25"/><circle cx="267.1" cy="76.0" r="1.25"/><circle cx="267.0" cy="78.9" r="1.25"/><circle cx="267.0" cy="74.1" r="1.25"/><circle cx="266.9" cy="71.0" r="1.25"/><circle cx="270.0" cy="71.1" r="1.25"/><circle cx="270.0" cy="74.1" r="1.25"/><circle cx="270.0" cy="76.0" r="1.25"/><circle cx="270.0" cy="70.0" r="1.25"/><circle cx="270.0" cy="68.1" r="1.25"/><circle cx="270.0" cy="75.1" r="1.25"/><circle cx="270.0" cy="66.0" r="1.25"/><circle cx="270.1" cy="75.0" r="1.25"/><circle cx="270.0" cy="69.1" r="1.25"/><circle cx="270.1" cy="67.0" r="1.25"/><circle cx="270.0" cy="78.1" r="1.25"/><circle cx="270.1" cy="75.1" r="1.25"/><circle cx="271.5" cy="79.0" r="1.25"/><circle cx="272.9" cy="77.1" r="1.25"/><circle cx="272.9" cy="72.9" r="1.25"/><circle cx="273.1" cy="80.0" r="1.25"/><circle cx="272.9" cy="80.0" r="1.25"/><circle cx="271.5" cy="72.0" r="1.25"/><circle cx="271.5" cy="77.1" r="1.25"/><circle cx="271.6" cy="70.9" r="1.25"/><circle cx="273.0" cy="74.0" r="1.25"/><circle cx="273.1" cy="73.1" r="1.25"/><circle cx="273.0" cy="70.1" r="1.25"/><circle cx="271.5" cy="74.9" r="1.25"/><circle cx="273.0" cy="77.0" r="1.25"/><circle cx="273.0" cy="73.1" r="1.25"/><circle cx="279.1" cy="82.0" r="1.25"/><circle cx="278.9" cy="74.9" r="1.25"/><circle cx="277.5" cy="78.0" r="1.25"/><circle cx="275.9" cy="74.0" r="1.25"/><circle cx="276.0" cy="75.0" r="1.25"/><circle cx="276.0" cy="71.0" r="1.25"/><circle cx="277.5" cy="82.0" r="1.25"/><circle cx="279.1" cy="78.0" r="1.25"/><circle cx="275.9" cy="68.1" r="1.25"/><circle cx="277.5" cy="72.0" r="1.25"/><circle cx="276.0" cy="82.0" r="1.25"/><circle cx="275.9" cy="73.1" r="1.25"/><circle cx="279.0" cy="69.9" r="1.25"/><circle cx="276.1" cy="75.1" r="1.25"/><circle cx="279.1" cy="75.1" r="1.25"/><circle cx="275.9" cy="76.0" r="1.25"/><circle cx="276.0" cy="68.1" r="1.25"/><circle cx="277.6" cy="82.0" r="1.25"/><circle cx="277.5" cy="80.1" r="1.25"/><circle cx="275.9" cy="71.0" r="1.25"/><circle cx="281.9" cy="79.1" r="1.25"/><circle cx="281.9" cy="80.0" r="1.25"/><circle cx="280.5" cy="76.1" r="1.25"/><circle cx="282.0" cy="69.9" r="1.25"/><circle cx="285.0" cy="69.0" r="1.25"/><circle cx="280.4" cy="74.0" r="1.25"/><circle cx="283.5" cy="73.9" r="1.25"/><circle cx="283.4" cy="74.0" r="1.25"/><circle cx="283.5" cy="71.0" r="1.25"/><circle cx="283.5" cy="69.1" r="1.25"/><circle cx="283.4" cy="71.1" r="1.25"/><circle cx="282.0" cy="78.1" r="1.25"/><circle cx="283.5" cy="67.9" r="1.25"/><circle cx="285.1" cy="67.9" r="1.25"/><circle cx="282.1" cy="71.0" r="1.25"/><circle cx="285.0" cy="80.0" r="1.25"/><circle cx="280.4" cy="77.9" r="1.25"/><circle cx="285.0" cy="70.1" r="1.25"/><circle cx="280.5" cy="69.1" r="1.25"/><circle cx="285.1" cy="68.1" r="1.25"/><circle cx="283.6" cy="74.0" r="1.25"/><circle cx="283.6" cy="68.9" r="1.25"/><circle cx="283.5" cy="72.9" r="1.25"/><circle cx="283.4" cy="79.1" r="1.25"/><circle cx="281.9" cy="76.9" r="1.25"/><circle cx="281.9" cy="81.0" r="1.25"/><circle cx="281.9" cy="78.1" r="1.25"/><circle cx="283.4" cy="73.0" r="1.25"/><circle cx="283.4" cy="76.1" r="1.25"/><circle cx="283.4" cy="68.9" r="1.25"/><circle cx="291.0" cy="68.0" r="1.25"/><circle cx="291.0" cy="71.1" r="1.25"/><circle cx="291.1" cy="76.1" r="1.25"/><circle cx="290.9" cy="72.1" r="1.25"/><circle cx="291.1" cy="62.1" r="1.25"/><circle cx="291.0" cy="63.0" r="1.25"/><circle cx="289.5" cy="60.0" r="1.25"/><circle cx="291.0" cy="77.1" r="1.25"/><circle cx="291.1" cy="73.0" r="1.25"/><circle cx="289.5" cy="58.9" r="1.25"/><circle cx="291.1" cy="65.1" r="1.25"/><circle cx="291.1" cy="74.0" r="1.25"/><circle cx="289.6" cy="64.0" r="1.25"/><circle cx="291.0" cy="76.9" r="1.25"/><circle cx="291.0" cy="69.1" r="1.25"/><circle cx="291.1" cy="72.1" r="1.25"/><circle cx="289.4" cy="64.1" r="1.25"/><circle cx="292.5" cy="64.1" r="1.25"/><circle cx="292.5" cy="63.0" r="1.25"/><circle cx="294.1" cy="57.0" r="1.25"/><circle cx="292.5" cy="56.0" r="1.25"/><circle cx="294.0" cy="62.0" r="1.25"/><circle cx="294.0" cy="57.9" r="1.25"/><circle cx="292.4" cy="57.9" r="1.25"/><circle cx="292.5" cy="67.0" r="1.25"/><circle cx="292.6" cy="55.9" r="1.25"/><circle cx="293.9" cy="67.0" r="1.25"/><circle cx="296.9" cy="74.9" r="1.25"/><circle cx="297.1" cy="74.0" r="1.25"/><circle cx="295.4" cy="75.9" r="1.25"/><circle cx="297.0" cy="73.9" r="1.25"/><circle cx="295.4" cy="76.0" r="1.25"/><circle cx="297.0" cy="69.9" r="1.25"/><circle cx="295.6" cy="69.1" r="1.25"/><circle cx="295.5" cy="69.1" r="1.25"/><circle cx="295.5" cy="71.9" r="1.25"/><circle cx="295.6" cy="71.0" r="1.25"/><circle cx="296.9" cy="69.9" r="1.25"/><circle cx="295.5" cy="73.0" r="1.25"/><circle cx="296.9" cy="74.1" r="1.25"/><circle cx="295.4" cy="71.9" r="1.25"/><circle cx="300.0" cy="67.9" r="1.25"/><circle cx="299.9" cy="69.0" r="1.25"/><circle cx="299.9" cy="70.0" r="1.25"/><circle cx="301.5" cy="66.9" r="1.25"/><circle cx="301.5" cy="76.1" r="1.25"/><circle cx="301.4" cy="77.0" r="1.25"/><circle cx="299.9" cy="75.9" r="1.25"/><circle cx="300.0" cy="76.0" r="1.25"/><circle cx="301.4" cy="71.0" r="1.25"/><circle cx="300.0" cy="69.9" r="1.25"/><circle cx="301.5" cy="67.9" r="1.25"/><circle cx="300.0" cy="67.0" r="1.25"/><circle cx="304.5" cy="68.0" r="1.25"/><circle cx="304.5" cy="66.1" r="1.25"/><circle cx="306.0" cy="77.0" r="1.25"/><circle cx="305.9" cy="68.0" r="1.25"/><circle cx="305.9" cy="66.9" r="1.25"/><circle cx="304.4" cy="67.0" r="1.25"/><circle cx="304.6" cy="70.0" r="1.25"/><circle cx="303.1" cy="68.0" r="1.25"/><circle cx="304.6" cy="72.1" r="1.25"/><circle cx="304.4" cy="76.9" r="1.25"/><circle cx="306.0" cy="68.1" r="1.25"/><circle cx="303.0" cy="69.0" r="1.25"/><circle cx="303.0" cy="67.1" r="1.25"/><circle cx="303.0" cy="68.0" r="1.25"/><circle cx="304.5" cy="65.9" r="1.25"/><circle cx="303.1" cy="65.9" r="1.25"/><circle cx="304.5" cy="77.9" r="1.25"/><circle cx="302.9" cy="73.0" r="1.25"/><circle cx="304.6" cy="74.1" r="1.25"/><circle cx="306.0" cy="79.0" r="1.25"/><circle cx="122.0" cy="53.0" r="1.25"/></g>
<g fill="none" stroke="#ff5f1c" stroke-width="0.7"><circle cx="243.7" cy="67.2" r="1.35"/><circle cx="244.6" cy="66.7" r="1.35"/><circle cx="245.5" cy="66.9" r="1.35"/><circle cx="246.7" cy="67.2" r="1.35"/><circle cx="247.2" cy="67.0" r="1.35"/><circle cx="248.2" cy="67.2" r="1.35"/><circle cx="253.1" cy="67.0" r="1.35"/><circle cx="255.8" cy="66.8" r="1.35"/><circle cx="199.1" cy="72.1" r="1.35"/><circle cx="200.0" cy="72.2" r="1.35"/><circle cx="200.9" cy="71.8" r="1.35"/><circle cx="242.7" cy="72.2" r="1.35"/><circle cx="246.0" cy="71.8" r="1.35"/><circle cx="251.1" cy="71.9" r="1.35"/><circle cx="253.8" cy="71.9" r="1.35"/><circle cx="291.0" cy="72.1" r="1.35"/><circle cx="293.7" cy="72.1" r="1.35"/><circle cx="152.7" cy="72.4" r="1.35"/><circle cx="116.6" cy="75.1" r="1.35"/><circle cx="117.6" cy="74.7" r="1.35"/><circle cx="118.2" cy="75.1" r="1.35"/><circle cx="119.1" cy="75.1" r="1.35"/><circle cx="119.6" cy="75.3" r="1.35"/><circle cx="120.8" cy="74.8" r="1.35"/><circle cx="121.4" cy="75.3" r="1.35"/><circle cx="163.6" cy="74.9" r="1.35"/><circle cx="164.9" cy="75.2" r="1.35"/><circle cx="165.2" cy="75.1" r="1.35"/><circle cx="166.1" cy="75.1" r="1.35"/><circle cx="167.2" cy="74.8" r="1.35"/><circle cx="167.6" cy="74.8" r="1.35"/><circle cx="168.5" cy="74.7" r="1.35"/><circle cx="209.8" cy="74.9" r="1.35"/><circle cx="213.0" cy="74.7" r="1.35"/><circle cx="216.0" cy="75.3" r="1.35"/><circle cx="257.0" cy="74.9" r="1.35"/><circle cx="260.1" cy="75.0" r="1.35"/><circle cx="144.2" cy="75.0" r="1.35"/><circle cx="144.9" cy="75.1" r="1.35"/><circle cx="145.8" cy="74.9" r="1.35"/><circle cx="147.1" cy="75.2" r="1.35"/><circle cx="147.8" cy="75.1" r="1.35"/><circle cx="152.7" cy="79.8" r="1.35"/><circle cx="100.1" cy="85.6" r="1.35"/><circle cx="122.8" cy="85.5" r="1.35"/><circle cx="125.9" cy="85.2" r="1.35"/><circle cx="129.2" cy="85.4" r="1.35"/><circle cx="132.2" cy="85.5" r="1.35"/><circle cx="135.1" cy="85.1" r="1.35"/><circle cx="138.2" cy="85.3" r="1.35"/><circle cx="139.4" cy="85.2" r="1.35"/><circle cx="139.8" cy="85.0" r="1.35"/><circle cx="140.7" cy="85.4" r="1.35"/><circle cx="141.4" cy="85.1" r="1.35"/><circle cx="142.4" cy="85.4" r="1.35"/><circle cx="143.6" cy="85.0" r="1.35"/><circle cx="143.9" cy="85.6" r="1.35"/><circle cx="145.2" cy="85.1" r="1.35"/><circle cx="145.6" cy="85.3" r="1.35"/><circle cx="146.9" cy="85.3" r="1.35"/><circle cx="150.0" cy="85.2" r="1.35"/><circle cx="163.8" cy="84.9" r="1.35"/><circle cx="168.2" cy="85.1" r="1.35"/><circle cx="170.1" cy="85.4" r="1.35"/><circle cx="172.3" cy="85.2" r="1.35"/><circle cx="174.3" cy="85.4" r="1.35"/><circle cx="174.9" cy="85.3" r="1.35"/><circle cx="176.7" cy="85.6" r="1.35"/><circle cx="180.0" cy="85.0" r="1.35"/><circle cx="181.7" cy="85.4" r="1.35"/><circle cx="183.7" cy="85.4" r="1.35"/><circle cx="185.5" cy="85.5" r="1.35"/><circle cx="192.2" cy="85.1" r="1.35"/><circle cx="195.1" cy="85.1" r="1.35"/><circle cx="215.1" cy="85.5" r="1.35"/><circle cx="218.2" cy="85.1" r="1.35"/><circle cx="220.8" cy="85.4" r="1.35"/><circle cx="262.0" cy="85.1" r="1.35"/><circle cx="264.8" cy="85.3" r="1.35"/><circle cx="232.8" cy="89.1" r="1.35"/><circle cx="235.8" cy="88.9" r="1.35"/><circle cx="239.0" cy="89.0" r="1.35"/><circle cx="257.0" cy="89.2" r="1.35"/><circle cx="277.0" cy="88.6" r="1.35"/><circle cx="284.1" cy="88.8" r="1.35"/><circle cx="286.9" cy="89.1" r="1.35"/><circle cx="211.1" cy="93.6" r="1.35"/><circle cx="212.0" cy="93.3" r="1.35"/><circle cx="212.5" cy="93.6" r="1.35"/><circle cx="213.3" cy="93.3" r="1.35"/><circle cx="214.0" cy="93.7" r="1.35"/><circle cx="215.2" cy="93.6" r="1.35"/><circle cx="258.3" cy="93.7" r="1.35"/><circle cx="258.7" cy="93.4" r="1.35"/><circle cx="259.7" cy="93.2" r="1.35"/><circle cx="260.5" cy="93.3" r="1.35"/><circle cx="260.9" cy="93.5" r="1.35"/><circle cx="261.8" cy="93.8" r="1.35"/><circle cx="263.0" cy="93.5" r="1.35"/><circle cx="164.7" cy="93.3" r="1.35"/><circle cx="305.0" cy="93.2" r="1.35"/><circle cx="99.0" cy="96.4" r="1.35"/><circle cx="100.0" cy="96.4" r="1.35"/><circle cx="122.0" cy="96.3" r="1.35"/><circle cx="144.5" cy="96.4" r="1.35"/><circle cx="147.6" cy="96.2" r="1.35"/><circle cx="132.0" cy="96.1" r="1.35"/><circle cx="140.6" cy="96.3" r="1.35"/><circle cx="145.5" cy="96.4" r="1.35"/><circle cx="165.0" cy="96.2" r="1.35"/><circle cx="210.8" cy="96.2" r="1.35"/><circle cx="213.6" cy="96.4" r="1.35"/><circle cx="257.1" cy="96.6" r="1.35"/><circle cx="257.7" cy="96.4" r="1.35"/><circle cx="258.9" cy="96.7" r="1.35"/><circle cx="259.5" cy="96.2" r="1.35"/><circle cx="260.2" cy="96.5" r="1.35"/><circle cx="260.9" cy="96.1" r="1.35"/><circle cx="262.1" cy="96.6" r="1.35"/><circle cx="305.0" cy="96.1" r="1.35"/><circle cx="132.0" cy="99.0" r="1.35"/><circle cx="140.7" cy="99.1" r="1.35"/><circle cx="164.5" cy="102.2" r="1.35"/><circle cx="188.2" cy="102.6" r="1.35"/><circle cx="191.7" cy="102.4" r="1.35"/><circle cx="194.3" cy="102.3" r="1.35"/><circle cx="201.8" cy="102.7" r="1.35"/><circle cx="204.7" cy="102.3" r="1.35"/><circle cx="208.2" cy="102.2" r="1.35"/><circle cx="210.8" cy="102.1" r="1.35"/><circle cx="213.8" cy="102.4" r="1.35"/><circle cx="220.7" cy="102.2" r="1.35"/><circle cx="222.2" cy="102.6" r="1.35"/><circle cx="224.3" cy="102.3" r="1.35"/><circle cx="226.0" cy="102.2" r="1.35"/><circle cx="228.4" cy="102.2" r="1.35"/><circle cx="229.9" cy="102.5" r="1.35"/><circle cx="232.1" cy="102.6" r="1.35"/><circle cx="233.8" cy="102.7" r="1.35"/><circle cx="235.8" cy="102.3" r="1.35"/><circle cx="237.6" cy="102.5" r="1.35"/><circle cx="239.6" cy="102.2" r="1.35"/><circle cx="241.2" cy="102.7" r="1.35"/><circle cx="247.4" cy="102.6" r="1.35"/><circle cx="248.3" cy="102.2" r="1.35"/><circle cx="249.1" cy="102.4" r="1.35"/><circle cx="250.3" cy="102.2" r="1.35"/><circle cx="251.0" cy="102.3" r="1.35"/><circle cx="251.4" cy="102.5" r="1.35"/><circle cx="252.3" cy="102.2" r="1.35"/><circle cx="256.0" cy="102.6" r="1.35"/><circle cx="263.6" cy="102.4" r="1.35"/><circle cx="265.0" cy="102.6" r="1.35"/><circle cx="267.3" cy="102.6" r="1.35"/><circle cx="269.4" cy="102.3" r="1.35"/><circle cx="271.2" cy="102.6" r="1.35"/><circle cx="272.8" cy="102.3" r="1.35"/><circle cx="274.7" cy="102.3" r="1.35"/><circle cx="276.6" cy="102.2" r="1.35"/><circle cx="278.4" cy="102.6" r="1.35"/><circle cx="280.4" cy="102.5" r="1.35"/><circle cx="282.6" cy="102.6" r="1.35"/><circle cx="284.1" cy="102.7" r="1.35"/><circle cx="289.2" cy="102.7" r="1.35"/><circle cx="292.1" cy="102.6" r="1.35"/><circle cx="293.2" cy="102.3" r="1.35"/><circle cx="295.0" cy="102.3" r="1.35"/><circle cx="297.0" cy="102.2" r="1.35"/><circle cx="298.7" cy="102.3" r="1.35"/><circle cx="300.8" cy="102.3" r="1.35"/><circle cx="302.7" cy="102.6" r="1.35"/><circle cx="304.6" cy="102.2" r="1.35"/><circle cx="306.6" cy="102.5" r="1.35"/><circle cx="56.6" cy="106.9" r="1.35"/><circle cx="57.0" cy="107.0" r="1.35"/><circle cx="58.1" cy="106.8" r="1.35"/><circle cx="58.8" cy="107.0" r="1.35"/><circle cx="66.6" cy="107.0" r="1.35"/><circle cx="76.2" cy="106.6" r="1.35"/><circle cx="85.9" cy="106.6" r="1.35"/><circle cx="94.5" cy="106.7" r="1.35"/><circle cx="97.4" cy="107.0" r="1.35"/><circle cx="100.5" cy="106.5" r="1.35"/><circle cx="103.4" cy="106.9" r="1.35"/><circle cx="106.5" cy="106.8" r="1.35"/><circle cx="99.9" cy="107.0" r="1.35"/><circle cx="102.2" cy="106.7" r="1.35"/><circle cx="103.9" cy="107.0" r="1.35"/><circle cx="105.7" cy="107.0" r="1.35"/><circle cx="107.7" cy="106.7" r="1.35"/><circle cx="109.7" cy="106.8" r="1.35"/><circle cx="111.2" cy="106.9" r="1.35"/><circle cx="113.5" cy="106.8" r="1.35"/><circle cx="115.2" cy="106.7" r="1.35"/><circle cx="117.3" cy="106.9" r="1.35"/><circle cx="121.8" cy="106.7" r="1.35"/><circle cx="124.9" cy="107.1" r="1.35"/><circle cx="128.1" cy="106.6" r="1.35"/><circle cx="131.2" cy="106.5" r="1.35"/><circle cx="134.1" cy="106.8" r="1.35"/><circle cx="169.0" cy="107.0" r="1.35"/><circle cx="191.0" cy="110.8" r="1.35"/><circle cx="194.0" cy="111.2" r="1.35"/><circle cx="238.0" cy="110.9" r="1.35"/><circle cx="282.8" cy="111.1" r="1.35"/><circle cx="284.0" cy="110.8" r="1.35"/><circle cx="284.8" cy="111.3" r="1.35"/><circle cx="285.4" cy="110.9" r="1.35"/><circle cx="286.3" cy="111.3" r="1.35"/><circle cx="286.8" cy="110.9" r="1.35"/><circle cx="287.7" cy="111.1" r="1.35"/><circle cx="27.3" cy="112.7" r="1.35"/><circle cx="29.4" cy="112.8" r="1.35"/><circle cx="31.1" cy="113.0" r="1.35"/><circle cx="33.5" cy="112.7" r="1.35"/><circle cx="35.3" cy="112.5" r="1.35"/><circle cx="37.2" cy="112.7" r="1.35"/><circle cx="39.1" cy="112.9" r="1.35"/><circle cx="40.7" cy="113.0" r="1.35"/><circle cx="42.5" cy="112.4" r="1.35"/><circle cx="44.6" cy="112.9" r="1.35"/><circle cx="46.7" cy="113.0" r="1.35"/><circle cx="48.4" cy="113.0" r="1.35"/><circle cx="50.3" cy="112.5" r="1.35"/><circle cx="52.3" cy="112.9" r="1.35"/><circle cx="54.1" cy="112.8" r="1.35"/><circle cx="55.9" cy="112.6" r="1.35"/><circle cx="102.5" cy="115.4" r="1.35"/><circle cx="103.3" cy="115.2" r="1.35"/><circle cx="103.8" cy="115.3" r="1.35"/><circle cx="105.0" cy="115.5" r="1.35"/><circle cx="105.5" cy="115.3" r="1.35"/><circle cx="106.5" cy="115.2" r="1.35"/><circle cx="107.4" cy="115.6" r="1.35"/><circle cx="108.8" cy="115.5" r="1.35"/><circle cx="111.0" cy="115.5" r="1.35"/><circle cx="112.9" cy="115.5" r="1.35"/><circle cx="114.6" cy="115.6" r="1.35"/><circle cx="116.9" cy="115.1" r="1.35"/><circle cx="122.3" cy="115.4" r="1.35"/><circle cx="124.8" cy="115.1" r="1.35"/><circle cx="131.0" cy="115.5" r="1.35"/><circle cx="133.6" cy="115.4" r="1.35"/><circle cx="136.9" cy="115.7" r="1.35"/><circle cx="147.9" cy="115.6" r="1.35"/><circle cx="148.6" cy="115.2" r="1.35"/><circle cx="149.4" cy="115.3" r="1.35"/><circle cx="150.5" cy="115.3" r="1.35"/><circle cx="151.0" cy="115.2" r="1.35"/><circle cx="151.8" cy="115.2" r="1.35"/><circle cx="152.7" cy="115.4" r="1.35"/><circle cx="153.4" cy="115.4" r="1.35"/><circle cx="154.4" cy="115.7" r="1.35"/><circle cx="155.2" cy="115.7" r="1.35"/><circle cx="156.0" cy="115.2" r="1.35"/><circle cx="156.9" cy="115.2" r="1.35"/><circle cx="157.4" cy="115.1" r="1.35"/><circle cx="158.5" cy="115.7" r="1.35"/><circle cx="159.1" cy="115.3" r="1.35"/><circle cx="160.0" cy="115.3" r="1.35"/><circle cx="160.9" cy="115.3" r="1.35"/><circle cx="161.4" cy="115.6" r="1.35"/><circle cx="162.4" cy="115.1" r="1.35"/><circle cx="163.4" cy="115.5" r="1.35"/><circle cx="163.9" cy="115.5" r="1.35"/><circle cx="165.1" cy="115.3" r="1.35"/><circle cx="167.7" cy="115.3" r="1.35"/><circle cx="170.7" cy="115.5" r="1.35"/><circle cx="173.8" cy="115.7" r="1.35"/><circle cx="176.5" cy="115.3" r="1.35"/><circle cx="179.9" cy="115.6" r="1.35"/><circle cx="175.1" cy="115.5" r="1.35"/><circle cx="176.8" cy="115.7" r="1.35"/><circle cx="178.8" cy="115.3" r="1.35"/><circle cx="180.5" cy="115.2" r="1.35"/><circle cx="182.8" cy="115.6" r="1.35"/><circle cx="184.2" cy="115.3" r="1.35"/><circle cx="186.4" cy="115.4" r="1.35"/><circle cx="188.2" cy="115.6" r="1.35"/><circle cx="194.6" cy="115.4" r="1.35"/><circle cx="195.8" cy="115.5" r="1.35"/><circle cx="196.3" cy="115.3" r="1.35"/><circle cx="197.0" cy="115.5" r="1.35"/><circle cx="198.1" cy="115.3" r="1.35"/><circle cx="198.6" cy="115.3" r="1.35"/><circle cx="199.4" cy="115.6" r="1.35"/><circle cx="200.3" cy="115.3" r="1.35"/><circle cx="201.0" cy="115.6" r="1.35"/><circle cx="201.7" cy="115.5" r="1.35"/><circle cx="202.4" cy="115.2" r="1.35"/><circle cx="203.2" cy="115.6" r="1.35"/><circle cx="204.1" cy="115.2" r="1.35"/><circle cx="204.8" cy="115.3" r="1.35"/><circle cx="206.0" cy="115.5" r="1.35"/><circle cx="206.9" cy="115.7" r="1.35"/><circle cx="207.5" cy="115.7" r="1.35"/><circle cx="208.1" cy="115.7" r="1.35"/><circle cx="209.1" cy="115.2" r="1.35"/><circle cx="210.0" cy="115.6" r="1.35"/><circle cx="210.6" cy="115.2" r="1.35"/><circle cx="211.7" cy="115.6" r="1.35"/><circle cx="214.5" cy="115.7" r="1.35"/><circle cx="217.1" cy="115.1" r="1.35"/><circle cx="220.2" cy="115.1" r="1.35"/><circle cx="223.5" cy="115.5" r="1.35"/><circle cx="226.5" cy="115.2" r="1.35"/><circle cx="229.5" cy="115.5" r="1.35"/><circle cx="235.1" cy="115.7" r="1.35"/><circle cx="239.9" cy="115.7" r="1.35"/><circle cx="241.9" cy="115.3" r="1.35"/><circle cx="243.7" cy="115.2" r="1.35"/><circle cx="246.0" cy="115.7" r="1.35"/><circle cx="247.7" cy="115.2" r="1.35"/><circle cx="249.3" cy="115.2" r="1.35"/><circle cx="251.3" cy="115.5" r="1.35"/><circle cx="253.0" cy="115.4" r="1.35"/><circle cx="255.3" cy="115.1" r="1.35"/><circle cx="257.1" cy="115.6" r="1.35"/><circle cx="262.0" cy="115.4" r="1.35"/><circle cx="267.2" cy="115.5" r="1.35"/><circle cx="269.9" cy="115.3" r="1.35"/><circle cx="273.3" cy="115.6" r="1.35"/><circle cx="276.2" cy="115.4" r="1.35"/><circle cx="278.8" cy="115.2" r="1.35"/><circle cx="283.0" cy="115.3" r="1.35"/><circle cx="289.1" cy="115.1" r="1.35"/><circle cx="291.1" cy="115.6" r="1.35"/><circle cx="292.8" cy="115.1" r="1.35"/><circle cx="294.9" cy="115.3" r="1.35"/><circle cx="296.7" cy="115.4" r="1.35"/><circle cx="298.6" cy="115.3" r="1.35"/><circle cx="300.7" cy="115.7" r="1.35"/><circle cx="302.6" cy="115.5" r="1.35"/><circle cx="304.1" cy="115.3" r="1.35"/><circle cx="49.9" cy="118.2" r="1.35"/><circle cx="88.5" cy="118.7" r="1.35"/><circle cx="131.5" cy="123.5" r="1.35"/><circle cx="163.5" cy="123.5" r="1.35"/><circle cx="29.7" cy="126.1" r="1.35"/><circle cx="32.6" cy="125.7" r="1.35"/><circle cx="164.5" cy="126.0" r="1.35"/><circle cx="211.4" cy="125.6" r="1.35"/><circle cx="71.3" cy="129.6" r="1.35"/><circle cx="116.8" cy="129.7" r="1.35"/><circle cx="120.0" cy="129.4" r="1.35"/><circle cx="168.4" cy="129.8" r="1.35"/><circle cx="162.8" cy="132.9" r="1.35"/><circle cx="145.8" cy="133.4" r="1.35"/><circle cx="179.8" cy="133.4" r="1.35"/><circle cx="183.0" cy="133.4" r="1.35"/><circle cx="186.1" cy="133.2" r="1.35"/><circle cx="189.3" cy="133.0" r="1.35"/><circle cx="192.2" cy="133.0" r="1.35"/><circle cx="194.9" cy="133.0" r="1.35"/><circle cx="217.2" cy="133.2" r="1.35"/><circle cx="220.1" cy="133.1" r="1.35"/><circle cx="223.1" cy="133.3" r="1.35"/><circle cx="225.8" cy="133.2" r="1.35"/><circle cx="229.1" cy="133.0" r="1.35"/><circle cx="232.1" cy="133.1" r="1.35"/><circle cx="234.9" cy="133.5" r="1.35"/><circle cx="238.3" cy="133.5" r="1.35"/><circle cx="263.4" cy="133.2" r="1.35"/><circle cx="266.6" cy="133.4" r="1.35"/><circle cx="269.4" cy="133.4" r="1.35"/><circle cx="272.3" cy="133.5" r="1.35"/><circle cx="275.4" cy="133.0" r="1.35"/><circle cx="278.5" cy="133.0" r="1.35"/><circle cx="283.1" cy="132.9" r="1.35"/><circle cx="286.3" cy="133.2" r="1.35"/><circle cx="289.1" cy="133.0" r="1.35"/><circle cx="145.6" cy="134.5" r="1.35"/><circle cx="148.3" cy="134.8" r="1.35"/><circle cx="99.6" cy="136.4" r="1.35"/><circle cx="100.0" cy="136.8" r="1.35"/><circle cx="148.0" cy="136.5" r="1.35"/><circle cx="30.9" cy="139.2" r="1.35"/><circle cx="43.7" cy="139.0" r="1.35"/><circle cx="47.0" cy="139.1" r="1.35"/><circle cx="53.1" cy="138.9" r="1.35"/><circle cx="70.0" cy="139.3" r="1.35"/><circle cx="58.8" cy="141.1" r="1.35"/><circle cx="60.0" cy="141.1" r="1.35"/><circle cx="60.4" cy="141.3" r="1.35"/><circle cx="61.3" cy="141.1" r="1.35"/><circle cx="62.5" cy="141.3" r="1.35"/><circle cx="63.2" cy="141.2" r="1.35"/><circle cx="64.0" cy="141.1" r="1.35"/><circle cx="64.8" cy="141.4" r="1.35"/><circle cx="65.7" cy="141.5" r="1.35"/><circle cx="66.3" cy="141.3" r="1.35"/><circle cx="67.2" cy="141.3" r="1.35"/><circle cx="67.6" cy="141.5" r="1.35"/><circle cx="68.8" cy="141.4" r="1.35"/><circle cx="69.5" cy="141.1" r="1.35"/><circle cx="77.5" cy="141.3" r="1.35"/><circle cx="27.7" cy="144.5" r="1.35"/><circle cx="28.6" cy="144.0" r="1.35"/><circle cx="29.2" cy="144.2" r="1.35"/><circle cx="29.8" cy="144.0" r="1.35"/><circle cx="30.5" cy="144.2" r="1.35"/><circle cx="31.5" cy="144.1" r="1.35"/><circle cx="32.2" cy="144.2" r="1.35"/><circle cx="33.3" cy="144.3" r="1.35"/><circle cx="33.7" cy="144.4" r="1.35"/><circle cx="34.6" cy="144.5" r="1.35"/><circle cx="35.8" cy="144.0" r="1.35"/><circle cx="36.3" cy="144.5" r="1.35"/><circle cx="37.0" cy="144.2" r="1.35"/><circle cx="37.8" cy="143.9" r="1.35"/><circle cx="38.5" cy="144.0" r="1.35"/><circle cx="39.4" cy="144.3" r="1.35"/><circle cx="40.3" cy="144.5" r="1.35"/><circle cx="41.2" cy="144.1" r="1.35"/><circle cx="42.2" cy="144.3" r="1.35"/><circle cx="42.7" cy="144.4" r="1.35"/><circle cx="43.6" cy="144.1" r="1.35"/><circle cx="44.4" cy="144.1" r="1.35"/><circle cx="45.4" cy="144.0" r="1.35"/><circle cx="46.2" cy="143.9" r="1.35"/><circle cx="46.4" cy="144.2" r="1.35"/><circle cx="47.3" cy="144.2" r="1.35"/><circle cx="48.1" cy="144.4" r="1.35"/><circle cx="49.2" cy="144.3" r="1.35"/><circle cx="50.2" cy="144.5" r="1.35"/><circle cx="50.8" cy="144.3" r="1.35"/><circle cx="51.2" cy="143.9" r="1.35"/><circle cx="52.3" cy="144.5" r="1.35"/><circle cx="53.0" cy="144.2" r="1.35"/><circle cx="53.6" cy="144.1" r="1.35"/><circle cx="55.2" cy="144.3" r="1.35"/><circle cx="58.2" cy="143.9" r="1.35"/><circle cx="60.8" cy="144.0" r="1.35"/><circle cx="64.2" cy="144.0" r="1.35"/><circle cx="74.1" cy="144.1" r="1.35"/><circle cx="75.9" cy="144.2" r="1.35"/><circle cx="77.5" cy="144.5" r="1.35"/><circle cx="79.4" cy="144.3" r="1.35"/><circle cx="81.1" cy="144.4" r="1.35"/><circle cx="83.6" cy="144.0" r="1.35"/><circle cx="85.3" cy="144.1" r="1.35"/><circle cx="91.8" cy="144.1" r="1.35"/><circle cx="95.1" cy="144.5" r="1.35"/><circle cx="98.3" cy="144.5" r="1.35"/><circle cx="101.1" cy="144.3" r="1.35"/><circle cx="130.8" cy="145.2" r="1.35"/><circle cx="145.6" cy="145.5" r="1.35"/><circle cx="148.4" cy="145.7" r="1.35"/><circle cx="190.9" cy="145.3" r="1.35"/><circle cx="193.8" cy="145.3" r="1.35"/><circle cx="34.5" cy="146.9" r="1.35"/><circle cx="37.2" cy="146.7" r="1.35"/><circle cx="40.4" cy="146.7" r="1.35"/><circle cx="43.3" cy="146.7" r="1.35"/><circle cx="46.1" cy="146.4" r="1.35"/><circle cx="49.4" cy="146.5" r="1.35"/><circle cx="52.6" cy="146.5" r="1.35"/><circle cx="64.0" cy="147.0" r="1.35"/><circle cx="70.0" cy="146.5" r="1.35"/><circle cx="83.6" cy="146.4" r="1.35"/><circle cx="169.0" cy="148.0" r="1.35"/><circle cx="116.9" cy="149.1" r="1.35"/><circle cx="120.2" cy="149.0" r="1.35"/><circle cx="123.1" cy="149.4" r="1.35"/><circle cx="29.5" cy="150.4" r="1.35"/><circle cx="32.8" cy="150.5" r="1.35"/><circle cx="35.3" cy="150.1" r="1.35"/><circle cx="38.2" cy="150.3" r="1.35"/><circle cx="42.8" cy="150.5" r="1.35"/><circle cx="46.0" cy="150.3" r="1.35"/><circle cx="51.6" cy="150.7" r="1.35"/><circle cx="54.4" cy="150.2" r="1.35"/><circle cx="69.9" cy="150.3" r="1.35"/><circle cx="73.2" cy="150.5" r="1.35"/><circle cx="76.0" cy="150.2" r="1.35"/><circle cx="170.0" cy="151.2" r="1.35"/><circle cx="132.0" cy="153.0" r="1.35"/><circle cx="150.5" cy="153.6" r="1.35"/><circle cx="157.8" cy="153.4" r="1.35"/><circle cx="162.8" cy="153.0" r="1.35"/><circle cx="77.6" cy="155.0" r="1.35"/><circle cx="80.5" cy="155.2" r="1.35"/><circle cx="83.3" cy="155.4" r="1.35"/><circle cx="88.6" cy="155.3" r="1.35"/><circle cx="91.3" cy="155.4" r="1.35"/><circle cx="94.5" cy="155.4" r="1.35"/><circle cx="98.2" cy="155.5" r="1.35"/><circle cx="101.1" cy="155.1" r="1.35"/><circle cx="116.9" cy="155.1" r="1.35"/><circle cx="119.8" cy="155.4" r="1.35"/><circle cx="165.3" cy="155.2" r="1.35"/><circle cx="167.9" cy="155.4" r="1.35"/><circle cx="208.0" cy="155.1" r="1.35"/><circle cx="214.4" cy="155.2" r="1.35"/><circle cx="230.4" cy="155.5" r="1.35"/><circle cx="241.5" cy="155.2" r="1.35"/><circle cx="275.5" cy="155.0" r="1.35"/><circle cx="278.7" cy="155.6" r="1.35"/><circle cx="282.0" cy="155.1" r="1.35"/><circle cx="289.0" cy="155.3" r="1.35"/><circle cx="298.0" cy="155.3" r="1.35"/><circle cx="53.8" cy="160.3" r="1.35"/><circle cx="55.9" cy="160.4" r="1.35"/><circle cx="57.7" cy="160.5" r="1.35"/><circle cx="59.9" cy="160.2" r="1.35"/><circle cx="61.4" cy="160.2" r="1.35"/><circle cx="63.3" cy="160.3" r="1.35"/><circle cx="66.1" cy="160.2" r="1.35"/><circle cx="69.3" cy="159.9" r="1.35"/><circle cx="75.1" cy="160.4" r="1.35"/><circle cx="76.7" cy="160.1" r="1.35"/><circle cx="78.5" cy="160.2" r="1.35"/><circle cx="80.8" cy="160.1" r="1.35"/><circle cx="82.7" cy="160.1" r="1.35"/><circle cx="84.6" cy="160.1" r="1.35"/><circle cx="86.7" cy="160.2" r="1.35"/><circle cx="88.0" cy="160.0" r="1.35"/><circle cx="90.3" cy="160.4" r="1.35"/><circle cx="92.2" cy="160.0" r="1.35"/><circle cx="94.2" cy="160.3" r="1.35"/><circle cx="95.7" cy="160.1" r="1.35"/><circle cx="97.9" cy="159.9" r="1.35"/><circle cx="99.4" cy="160.1" r="1.35"/><circle cx="101.8" cy="160.5" r="1.35"/><circle cx="103.4" cy="160.4" r="1.35"/><circle cx="105.6" cy="160.4" r="1.35"/><circle cx="100.1" cy="160.5" r="1.35"/><circle cx="102.0" cy="160.5" r="1.35"/><circle cx="103.8" cy="160.0" r="1.35"/><circle cx="105.7" cy="160.2" r="1.35"/><circle cx="107.5" cy="160.1" r="1.35"/><circle cx="109.5" cy="160.3" r="1.35"/><circle cx="111.2" cy="160.1" r="1.35"/><circle cx="113.3" cy="160.2" r="1.35"/><circle cx="115.2" cy="160.3" r="1.35"/><circle cx="116.9" cy="160.2" r="1.35"/><circle cx="120.9" cy="160.4" r="1.35"/><circle cx="121.9" cy="160.4" r="1.35"/><circle cx="122.6" cy="160.0" r="1.35"/><circle cx="123.7" cy="160.2" r="1.35"/><circle cx="124.1" cy="160.1" r="1.35"/><circle cx="124.9" cy="160.3" r="1.35"/><circle cx="126.0" cy="160.2" r="1.35"/><circle cx="126.7" cy="160.0" r="1.35"/><circle cx="127.4" cy="160.1" r="1.35"/><circle cx="128.1" cy="160.1" r="1.35"/><circle cx="129.2" cy="160.3" r="1.35"/><circle cx="129.6" cy="160.0" r="1.35"/><circle cx="130.8" cy="160.3" r="1.35"/><circle cx="131.5" cy="160.3" r="1.35"/><circle cx="132.3" cy="160.1" r="1.35"/><circle cx="132.7" cy="160.1" r="1.35"/><circle cx="133.5" cy="160.5" r="1.35"/><circle cx="134.6" cy="160.3" r="1.35"/><circle cx="135.7" cy="160.4" r="1.35"/><circle cx="136.0" cy="160.1" r="1.35"/><circle cx="136.8" cy="160.4" r="1.35"/><circle cx="137.9" cy="160.2" r="1.35"/><circle cx="138.5" cy="160.1" r="1.35"/><circle cx="139.4" cy="160.3" r="1.35"/><circle cx="140.4" cy="160.4" r="1.35"/><circle cx="141.2" cy="160.2" r="1.35"/><circle cx="141.8" cy="160.1" r="1.35"/><circle cx="147.3" cy="160.0" r="1.35"/><circle cx="149.8" cy="160.1" r="1.35"/><circle cx="156.9" cy="160.4" r="1.35"/><circle cx="159.5" cy="160.4" r="1.35"/><circle cx="162.8" cy="160.2" r="1.35"/><circle cx="168.8" cy="160.4" r="1.35"/><circle cx="171.9" cy="160.0" r="1.35"/><circle cx="175.2" cy="160.2" r="1.35"/><circle cx="177.9" cy="160.3" r="1.35"/><circle cx="174.9" cy="159.9" r="1.35"/><circle cx="176.8" cy="160.1" r="1.35"/><circle cx="178.5" cy="160.1" r="1.35"/><circle cx="180.9" cy="160.1" r="1.35"/><circle cx="182.7" cy="160.3" r="1.35"/><circle cx="184.3" cy="159.9" r="1.35"/><circle cx="186.5" cy="160.3" r="1.35"/><circle cx="188.2" cy="160.0" r="1.35"/><circle cx="190.4" cy="160.4" r="1.35"/><circle cx="196.0" cy="160.0" r="1.35"/><circle cx="200.9" cy="160.2" r="1.35"/><circle cx="203.7" cy="159.9" r="1.35"/><circle cx="206.7" cy="160.3" r="1.35"/><circle cx="209.9" cy="160.2" r="1.35"/><circle cx="214.2" cy="160.0" r="1.35"/><circle cx="217.3" cy="160.1" r="1.35"/><circle cx="220.3" cy="160.4" r="1.35"/><circle cx="223.2" cy="160.5" r="1.35"/><circle cx="226.2" cy="160.4" r="1.35"/><circle cx="235.3" cy="160.0" r="1.35"/><circle cx="241.5" cy="160.3" r="1.35"/><circle cx="247.3" cy="159.9" r="1.35"/><circle cx="250.6" cy="160.4" r="1.35"/><circle cx="253.3" cy="160.4" r="1.35"/><circle cx="256.4" cy="160.5" r="1.35"/><circle cx="261.7" cy="160.1" r="1.35"/><circle cx="263.7" cy="160.3" r="1.35"/><circle cx="266.0" cy="160.4" r="1.35"/><circle cx="267.7" cy="160.1" r="1.35"/><circle cx="269.8" cy="160.0" r="1.35"/><circle cx="271.4" cy="160.4" r="1.35"/><circle cx="273.4" cy="160.5" r="1.35"/><circle cx="275.1" cy="160.2" r="1.35"/><circle cx="277.0" cy="159.9" r="1.35"/><circle cx="278.9" cy="160.0" r="1.35"/><circle cx="280.9" cy="160.2" r="1.35"/><circle cx="282.9" cy="160.1" r="1.35"/><circle cx="289.1" cy="160.2" r="1.35"/><circle cx="292.3" cy="160.0" r="1.35"/><circle cx="295.0" cy="160.2" r="1.35"/><circle cx="297.9" cy="160.4" r="1.35"/><circle cx="249.8" cy="160.4" r="1.35"/><circle cx="252.9" cy="160.1" r="1.35"/><circle cx="148.0" cy="161.6" r="1.35"/><circle cx="164.0" cy="164.1" r="1.35"/><circle cx="215.0" cy="166.2" r="1.35"/><circle cx="262.0" cy="166.1" r="1.35"/><circle cx="262.5" cy="166.8" r="1.35"/><circle cx="41.7" cy="169.8" r="1.35"/><circle cx="48.1" cy="170.0" r="1.35"/><circle cx="50.9" cy="169.9" r="1.35"/><circle cx="54.2" cy="169.9" r="1.35"/><circle cx="116.0" cy="170.3" r="1.35"/><circle cx="118.9" cy="169.9" r="1.35"/><circle cx="121.8" cy="170.1" r="1.35"/><circle cx="165.1" cy="170.0" r="1.35"/><circle cx="167.9" cy="169.8" r="1.35"/><circle cx="215.0" cy="170.2" r="1.35"/><circle cx="262.0" cy="170.0" r="1.35"/><circle cx="304.0" cy="170.3" r="1.35"/></g>
<path d="M27.5 3.4 V254.2 H305.5" fill="none" stroke="#c6c6c6" stroke-width="1"/>
<path d="M27.5 254.20h2.6M27.5 218.37h2.6M27.5 182.54h2.6M27.5 146.71h2.6M27.5 110.89h2.6M27.5 75.06h2.6M27.5 39.23h2.6M27.5 3.40h2.6M27.50 254.2v-2.6M73.83 254.2v-2.6M120.17 254.2v-2.6M166.50 254.2v-2.6M212.83 254.2v-2.6M259.17 254.2v-2.6M305.50 254.2v-2.6" stroke="#a4a4a4" stroke-width="1" fill="none"/>
<text x="24.3" y="258.5" text-anchor="end" font-size="10.5" fill="#2e2e2e" font-family="Liberation Sans, sans-serif">0</text>
<text x="24.3" y="222.7" text-anchor="end" font-size="10.5" fill="#2e2e2e" font-family="Liberation Sans, sans-serif">10</text>
<text x="24.3" y="186.8" text-anchor="end" font-size="10.5" fill="#2e2e2e" font-family="Liberation Sans, sans-serif">20</text>
<text x="24.3" y="151.0" text-anchor="end" font-size="10.5" fill="#2e2e2e" font-family="Liberation Sans, sans-serif">30</text>
<text x="24.3" y="115.2" text-anchor="end" font-size="10.5" fill="#2e2e2e" font-family="Liberation Sans, sans-serif">40</text>
<text x="24.3" y="79.4" text-anchor="end" font-size="10.5" fill="#2e2e2e" font-family="Liberation Sans, sans-serif">50</text>
<text x="24.3" y="43.5" text-anchor="end" font-size="10.5" fill="#2e2e2e" font-family="Liberation Sans, sans-serif">60</text>
<text x="24.3" y="7.7" text-anchor="end" font-size="10.5" fill="#2e2e2e" font-family="Liberation Sans, sans-serif">70</text>
<text x="27.5" y="268" text-anchor="middle" font-size="10.5" fill="#2e2e2e" font-family="Liberation Sans, sans-serif">0</text>
<text x="73.8" y="268" text-anchor="middle" font-size="10.5" fill="#2e2e2e" font-family="Liberation Sans, sans-serif">500</text>
<text x="120.2" y="268" text-anchor="middle" font-size="10.5" fill="#2e2e2e" font-family="Liberation Sans, sans-serif">1000</text>
<text x="166.5" y="268" text-anchor="middle" font-size="10.5" fill="#2e2e2e" font-family="Liberation Sans, sans-serif">1500</text>
<text x="212.8" y="268" text-anchor="middle" font-size="10.5" fill="#2e2e2e" font-family="Liberation Sans, sans-serif">2000</text>
<text x="259.2" y="268" text-anchor="middle" font-size="10.5" fill="#2e2e2e" font-family="Liberation Sans, sans-serif">2500</text>
<text x="305.5" y="268" text-anchor="middle" font-size="10.5" fill="#2e2e2e" font-family="Liberation Sans, sans-serif">3000</text>
<text x="167.3" y="282.8" text-anchor="middle" font-size="11.9" fill="#2e2e2e" font-family="Liberation Sans, sans-serif">Time (s)</text>
<text transform="translate(8.7 128.4) rotate(-90)" text-anchor="middle" font-size="11.9" fill="#2e2e2e" font-family="Liberation Sans, sans-serif">Power (kW)</text>
<circle cx="135.5" cy="14" r="1.4" fill="none" stroke="#1c94f4" stroke-width="0.7"/>
<circle cx="165.3" cy="14" r="1.4" fill="none" stroke="#ff5f1c" stroke-width="0.7"/>
<text x="143.3" y="17.7" font-size="10.3" fill="#111" font-family="Liberation Sans, sans-serif">PF</text>
<text x="173.3" y="17.7" font-size="10.3" fill="#111" font-family="Liberation Sans, sans-serif">DDQN</text>
<text x="160.6" y="321.5" text-anchor="middle" font-size="20" letter-spacing="0.5" fill="#111" font-family="Liberation Serif, serif">(a)</text>
<defs><clipPath id="rc"><rect x="405.5" y="3" width="280" height="251"/></clipPath></defs>
<g clip-path="url(#rc)"><path d="M481.5 40.0C481.4 43.6 479.2 55.2 480.8 61.5C482.4 67.8 488.8 74.5 490.8 77.7C492.8 81.0 490.3 80.2 492.7 81.0C495.1 81.8 501.0 82.0 505.0 82.5C509.0 83.0 511.9 83.2 516.7 83.7C521.5 84.2 528.8 86.5 534.0 85.4C539.2 84.3 544.5 79.2 548.0 77.2C551.5 75.2 550.8 75.2 555.0 73.1C559.2 71.0 570.0 66.4 573.5 64.6C577.0 62.8 576.2 63.2 576.0 62.2C575.8 61.2 574.0 59.8 572.5 58.5C571.0 57.2 570.6 56.4 567.3 54.2C564.0 52.0 557.3 48.7 552.6 45.1C547.9 41.5 541.3 34.8 539.0 32.7" fill="none" stroke="#3030b4" stroke-width="1.35" stroke-linejoin="round"/><path d="M464.6 41.5C464.5 42.2 463.3 43.2 463.8 46.0C464.3 48.8 465.9 53.9 467.7 58.5C469.5 63.1 474.0 69.7 474.6 73.8C475.2 77.9 471.7 81.0 471.5 83.0C471.3 85.0 471.7 83.5 473.4 85.5C475.1 87.5 479.1 91.4 481.7 94.8C484.3 98.2 485.9 103.9 489.0 105.8C492.1 107.7 494.8 106.3 500.0 106.1C505.2 105.9 514.4 105.0 520.0 104.6C525.6 104.2 530.7 104.2 533.8 103.5C536.9 102.8 536.3 101.9 538.5 100.4C540.7 98.9 544.2 96.6 547.0 94.5C549.8 92.4 551.6 90.1 555.0 87.7C558.4 85.3 563.6 82.2 567.3 80.0C571.0 77.8 574.3 76.6 577.3 74.6C580.2 72.5 583.3 69.6 585.0 67.7C586.7 65.8 587.0 65.0 587.3 63.0C587.5 61.0 587.2 58.8 586.5 56.0C585.8 53.2 584.5 48.6 583.0 46.0C581.5 43.4 578.4 41.5 577.5 40.6" fill="none" stroke="#3030b4" stroke-width="1.35" stroke-linejoin="round"/><path d="M450.0 41.5C450.7 43.2 452.8 48.2 454.0 52.0C455.2 55.8 456.0 61.2 457.0 64.0C458.0 66.8 460.8 65.1 460.0 68.5C459.2 71.9 453.6 81.4 452.3 84.6C451.0 87.8 449.6 84.8 452.0 87.4C454.4 90.0 462.4 96.2 467.0 100.3C471.6 104.4 475.8 109.4 479.8 112.3C483.8 115.2 487.6 116.8 491.0 117.8C494.4 118.8 494.1 117.5 500.0 118.0C505.9 118.5 520.6 120.7 526.2 120.8C531.8 120.9 531.4 119.8 533.8 118.8C536.2 117.8 537.3 117.1 540.8 115.0C544.3 112.9 550.6 109.2 555.0 106.2C559.4 103.2 563.7 100.0 567.3 97.0C570.9 94.0 573.9 91.2 576.5 88.5C579.1 85.8 581.0 83.1 583.0 80.8C585.0 78.5 586.8 76.8 588.8 74.6C590.8 72.4 593.6 70.1 595.0 67.7C596.4 65.3 596.8 62.2 597.3 60.0C597.8 57.8 598.8 56.8 597.9 54.2C597.0 51.7 593.2 46.3 592.2 44.7" fill="none" stroke="#3030b4" stroke-width="1.35" stroke-linejoin="round"/><path d="M440.8 46.2C441.4 48.2 443.8 55.4 444.6 58.5C445.4 61.6 446.2 61.5 445.4 64.6C444.6 67.7 441.2 74.4 440.0 77.0C438.8 79.6 438.4 77.7 438.3 80.0C438.2 82.3 437.5 87.0 439.2 91.0C440.9 95.0 444.6 100.0 448.5 104.0C452.4 108.0 458.0 112.1 462.3 115.0C466.6 117.9 469.9 119.3 474.3 121.5C478.8 123.7 484.7 127.0 489.0 128.3C493.3 129.6 494.7 129.0 500.0 129.2C505.3 129.4 515.2 129.7 520.8 129.6C526.4 129.5 529.6 130.0 533.8 128.8C538.0 127.7 541.1 125.1 546.2 122.7C551.3 120.3 560.1 116.8 564.6 114.2C569.1 111.6 570.8 108.9 573.0 107.3C575.2 105.7 575.9 106.7 578.0 104.6C580.1 102.5 583.0 98.7 585.8 94.6C588.6 90.5 592.4 83.5 595.0 80.0C597.6 76.5 599.4 75.7 601.2 73.8C603.0 71.9 604.8 70.6 605.8 68.5C606.8 66.4 607.0 63.4 607.3 61.0C607.5 58.6 607.8 56.2 607.3 54.0C606.8 51.8 605.0 48.6 604.5 47.5" fill="none" stroke="#3030b4" stroke-width="1.35" stroke-linejoin="round"/><path d="M431.2 50.6C431.0 51.4 430.5 53.3 430.0 55.5C429.5 57.7 428.4 60.9 428.0 64.0C427.6 67.1 427.6 69.7 427.6 74.0C427.6 78.3 427.6 86.7 428.0 90.0C428.4 93.3 428.6 89.8 430.0 93.8C431.4 97.8 433.8 109.6 436.5 114.0C439.2 118.4 443.1 118.4 446.0 120.0C448.9 121.6 450.5 121.7 454.0 123.4C457.5 125.1 461.8 128.2 467.0 130.0C472.2 131.8 479.5 133.5 485.0 134.4C490.5 135.3 495.2 135.2 500.0 135.3C504.8 135.5 508.2 135.2 513.8 135.3C519.4 135.4 528.4 136.5 533.8 135.8C539.2 135.1 541.8 132.9 546.2 131.2C550.6 129.5 556.6 127.2 560.0 125.8C563.4 124.3 564.5 123.7 566.5 122.5C568.5 121.3 570.0 120.2 572.3 118.8C574.5 117.4 577.8 115.7 580.0 114.2C582.2 112.7 583.0 113.0 585.8 110.0C588.5 107.0 593.2 100.3 596.5 96.2C599.8 92.1 603.5 88.4 605.8 85.4C608.0 82.5 608.6 80.9 610.0 78.5C611.4 76.1 613.1 73.3 614.2 70.8C615.3 68.2 615.9 66.3 616.5 63.2C617.1 60.1 617.6 53.9 617.8 52.0" fill="none" stroke="#3030b4" stroke-width="1.35" stroke-linejoin="round"/><path d="M417.7 55.5C417.6 56.8 417.8 60.4 417.2 63.0C416.6 65.6 415.3 68.2 414.0 71.0C412.7 73.8 410.0 76.7 409.5 79.5C409.0 82.3 410.3 85.1 411.0 88.0C411.7 90.9 413.6 93.8 413.7 97.0C413.8 100.2 412.7 103.5 411.5 107.0C410.3 110.5 407.3 114.8 406.5 118.0C405.7 121.2 405.8 123.5 406.5 126.0C407.2 128.6 408.9 131.1 410.8 133.3C412.7 135.6 415.1 137.8 418.0 139.5C420.9 141.2 424.8 141.9 428.0 143.2C431.2 144.5 433.8 145.8 437.0 147.2C440.2 148.6 442.2 150.5 447.4 151.4C452.6 152.3 461.1 152.2 468.3 152.6C475.5 153.0 483.6 153.9 490.5 153.8C497.4 153.7 502.6 152.7 510.0 152.0C517.4 151.3 527.3 150.7 534.6 149.5C541.9 148.3 546.8 147.1 553.8 145.0C560.8 142.9 569.8 139.6 576.4 136.7C583.0 133.8 589.7 129.9 593.6 127.4C597.5 124.9 597.3 123.9 600.0 121.5C602.7 119.1 606.2 116.6 610.0 113.0C613.8 109.4 619.5 104.0 623.0 100.0C626.5 96.0 628.8 92.0 631.0 89.0C633.2 86.0 634.3 85.1 636.0 81.7C637.7 78.3 640.4 72.2 641.4 68.7C642.4 65.2 642.1 61.8 642.3 60.4" fill="none" stroke="#2e34cc" stroke-width="1.35" stroke-linejoin="round"/><path d="M405.5 186.0C406.6 186.2 408.9 187.1 412.0 187.0C415.1 186.9 420.2 186.4 424.0 185.2C427.8 184.0 431.0 180.5 435.0 179.7C439.0 178.9 441.8 180.0 448.0 180.6C454.2 181.2 465.5 182.9 472.0 183.4C478.5 183.9 481.6 184.0 486.8 183.4C492.0 182.8 497.9 180.8 503.4 179.7C508.9 178.6 514.8 177.6 520.0 177.0C525.2 176.4 528.1 176.7 534.6 176.0C541.1 175.3 551.6 174.1 559.0 172.9C566.4 171.7 572.6 169.9 578.8 168.7C585.0 167.5 590.2 166.7 596.0 165.5C601.8 164.3 607.5 164.1 613.3 161.3C619.1 158.6 624.3 152.7 630.8 149.0C637.3 145.3 646.7 141.9 652.3 139.4C657.9 136.9 659.1 136.5 664.6 133.8C670.1 131.1 681.6 124.8 685.0 123.0" fill="none" stroke="#3846e6" stroke-width="1.35" stroke-linejoin="round"/><path d="M405.5 211.3C406.4 211.7 407.9 212.8 411.0 213.5C414.1 214.2 420.3 215.7 424.0 215.3C427.7 214.9 429.9 212.9 433.3 211.3C436.7 209.8 441.6 206.8 444.4 206.0C447.2 205.2 445.2 205.9 450.0 206.5C454.8 207.1 467.7 208.7 473.0 209.4C478.3 210.2 479.3 210.6 482.0 211.0C484.7 211.4 485.3 212.9 489.4 212.0C493.5 211.1 500.5 207.2 506.6 205.5C512.7 203.8 521.3 202.5 526.0 201.8C530.7 201.1 530.4 201.8 534.7 201.2C539.0 200.6 546.1 200.0 552.0 198.4C557.9 196.8 564.8 193.2 570.0 191.5C575.2 189.8 578.0 189.8 583.0 188.4C588.0 187.0 594.1 185.2 600.0 183.0C605.9 180.8 609.8 177.7 618.5 175.4C627.2 173.1 644.1 171.3 652.3 169.2C660.5 167.1 664.1 165.6 667.7 163.0C671.3 160.4 670.9 156.4 673.8 153.8C676.7 151.2 683.1 148.7 685.0 147.7" fill="none" stroke="#3a70f4" stroke-width="1.35" stroke-linejoin="round"/><path d="M405.5 223.6C406.4 223.4 408.2 222.9 411.0 222.7C413.8 222.5 416.2 223.1 422.0 222.4C427.8 221.7 440.4 219.4 446.0 218.7C451.6 218.0 451.0 218.1 455.5 218.0C460.0 217.9 468.1 218.1 473.0 218.0C477.9 217.9 474.7 218.0 485.0 217.3C495.3 216.6 521.4 214.8 534.7 214.0C548.0 213.2 556.4 213.5 565.0 212.6C573.6 211.7 579.6 211.0 586.5 208.7C593.4 206.4 600.9 201.2 606.6 198.6C612.4 196.0 616.1 194.3 621.0 192.9C625.9 191.5 630.2 191.4 636.0 190.0C641.8 188.6 649.9 185.9 655.7 184.4C661.5 182.9 666.1 181.7 671.0 181.0C675.9 180.3 682.7 180.6 685.0 180.5" fill="none" stroke="#28a8f8" stroke-width="1.35" stroke-linejoin="round"/><path d="M405.5 228.3C408.2 228.1 410.8 227.7 422.0 226.8C433.2 225.9 454.2 224.0 473.0 222.7C491.8 221.4 522.4 219.7 534.7 219.0C547.0 218.3 542.0 218.8 547.0 218.6C552.0 218.4 556.4 218.6 565.0 218.0C573.6 217.4 591.1 215.8 598.4 215.0C605.6 214.2 604.4 214.3 608.5 213.3C612.6 212.3 617.0 211.1 622.8 209.0C628.5 206.9 637.3 202.9 643.0 200.5C648.7 198.1 652.5 195.7 656.8 194.4C661.1 193.1 664.3 193.5 669.0 192.9C673.7 192.3 682.3 191.3 685.0 191.0" fill="none" stroke="#1cd8f2" stroke-width="1.35" stroke-linejoin="round"/><path d="M405.5 233.0C408.2 232.8 410.8 232.4 422.0 231.6C433.2 230.8 454.2 229.4 473.0 228.0C491.8 226.6 522.4 224.2 534.7 223.4C547.0 222.6 542.0 223.3 547.0 223.2C552.0 223.0 556.4 223.0 565.0 222.5C573.6 222.0 591.1 220.8 598.4 220.3C605.7 219.8 604.3 220.3 609.0 219.7C613.7 219.1 620.9 217.9 626.6 216.7C632.3 215.5 637.8 214.4 643.0 212.5C648.2 210.6 653.3 207.2 658.0 205.5C662.7 203.8 666.8 203.4 671.3 202.2C675.8 200.9 682.7 198.7 685.0 198.0" fill="none" stroke="#3cebb4" stroke-width="1.35" stroke-linejoin="round"/><path d="M405.5 237.5C408.2 237.3 410.8 237.3 422.0 236.6C433.2 235.8 454.2 234.4 473.0 233.0C491.8 231.6 522.4 228.9 534.7 228.0C547.0 227.1 542.0 227.6 547.0 227.3C552.0 227.1 556.4 227.2 565.0 226.5C573.6 225.8 591.1 223.8 598.4 223.2C605.7 222.6 601.6 223.6 609.0 222.8C616.4 222.0 634.7 219.8 643.0 218.6C651.3 217.4 654.3 216.6 659.0 215.5C663.7 214.4 667.0 213.8 671.3 212.0C675.6 210.2 682.7 206.2 685.0 205.0" fill="none" stroke="#8ef05c" stroke-width="1.35" stroke-linejoin="round"/><path d="M405.5 242.0C408.2 241.9 410.8 241.9 422.0 241.2C433.2 240.5 454.2 239.3 473.0 238.0C491.8 236.7 522.4 234.2 534.7 233.2C547.0 232.2 542.0 232.4 547.0 232.0C552.0 231.6 556.4 231.6 565.0 230.7C573.6 229.8 591.1 227.5 598.4 226.7C605.7 225.9 601.9 226.5 609.0 226.1C616.1 225.7 632.5 224.8 641.0 224.5C649.5 224.2 655.1 225.1 660.0 224.5C664.9 223.9 666.1 222.2 670.3 221.0C674.5 219.8 682.5 217.7 685.0 217.0" fill="none" stroke="#e6f030" stroke-width="1.35" stroke-linejoin="round"/><path d="M405.5 246.4C408.2 246.6 414.6 247.5 422.0 247.3C429.4 247.1 441.5 245.7 450.0 245.0C458.5 244.3 467.1 243.7 472.8 243.3C478.5 243.0 477.8 243.6 484.0 242.9C490.2 242.2 501.6 239.9 510.0 239.0C518.5 238.1 528.5 237.9 534.7 237.5C540.9 237.1 542.0 237.1 547.0 236.6C552.0 236.1 556.4 235.3 565.0 234.5C573.6 233.7 591.1 232.7 598.4 232.0C605.6 231.3 604.9 230.7 608.5 230.5C612.1 230.3 614.8 230.9 620.0 230.6C625.2 230.3 634.5 228.8 640.0 228.8C645.5 228.8 649.8 230.1 653.0 230.8C656.2 231.5 656.1 232.6 659.0 232.8C661.9 233.0 666.0 233.2 670.3 232.0C674.6 230.8 682.5 226.6 685.0 225.5" fill="none" stroke="#ffb52c" stroke-width="1.35" stroke-linejoin="round"/><path d="M457.3 249.4C458.4 249.3 460.9 248.9 464.0 248.6C467.1 248.2 471.6 247.7 475.8 247.3C480.0 246.9 483.7 247.0 489.4 246.4C495.1 245.8 504.9 244.4 510.0 243.8C515.1 243.2 517.2 243.2 520.0 243.0C522.8 242.8 524.0 242.6 527.0 242.3C530.0 242.0 531.7 241.8 538.0 241.1C544.3 240.4 556.5 239.2 565.0 238.4C573.5 237.6 583.5 236.7 589.0 236.3C594.5 235.9 592.8 235.9 598.0 235.8C603.2 235.8 613.3 236.2 620.0 236.0C626.7 235.8 633.3 234.4 638.0 234.3C642.7 234.2 645.7 235.0 648.0 235.5C650.3 236.0 650.7 236.7 652.0 237.5C653.3 238.3 654.3 239.6 656.0 240.5C657.7 241.4 659.6 243.1 662.0 243.0C664.4 242.9 666.5 242.0 670.3 240.0C674.1 238.0 682.5 232.3 685.0 230.8" fill="none" stroke="#ff8020" stroke-width="1.35" stroke-linejoin="round"/><path d="M495.0 249.4C496.1 249.3 498.7 248.9 501.7 248.6C504.7 248.3 509.9 247.7 513.0 247.5C516.0 247.3 515.5 247.6 520.0 247.2C524.5 246.8 532.8 245.6 540.0 244.8C547.2 244.0 557.6 243.0 563.4 242.3C569.2 241.6 569.2 240.9 575.0 240.5C580.8 240.1 589.4 240.1 598.0 240.0C606.6 239.9 620.1 239.9 626.6 240.0C633.1 240.1 634.3 239.9 637.0 240.6C639.7 241.3 641.3 243.4 643.0 244.4C644.7 245.4 645.1 245.2 647.0 246.5C648.9 247.8 653.3 251.1 654.6 252.0" fill="none" stroke="#ff4614" stroke-width="1.35" stroke-linejoin="round"/><path d="M665.8 250.5C666.2 250.0 667.3 248.3 668.5 247.4C669.7 246.5 671.5 245.8 673.0 244.8C674.5 243.8 675.9 242.8 677.7 241.5C679.5 240.2 682.3 237.9 683.7 236.8C685.1 235.7 685.6 235.3 686.0 235.0" fill="none" stroke="#ff4614" stroke-width="1.35" stroke-linejoin="round"/><path d="M533.6 249.7C534.9 249.5 538.4 248.8 541.6 248.4C544.8 248.0 548.8 247.6 552.7 247.2C556.6 246.8 561.0 246.3 565.0 245.8C569.0 245.3 571.5 244.4 577.0 244.2C582.5 244.0 591.7 244.3 598.0 244.4C604.3 244.5 610.2 244.8 615.0 244.8C619.8 244.8 622.8 243.7 626.6 244.4C630.4 245.1 635.8 248.2 638.0 249.2C640.2 250.2 639.7 250.3 640.0 250.5" fill="none" stroke="#e02a1e" stroke-width="1.35" stroke-linejoin="round"/><path d="M673.7 250.5C674.4 249.9 676.3 248.4 678.0 247.0C679.7 245.6 682.4 243.1 683.7 242.0C685.0 240.9 685.6 240.8 686.0 240.5" fill="none" stroke="#e02a1e" stroke-width="1.35" stroke-linejoin="round"/><path d="M570.2 249.8C571.6 249.7 575.1 249.1 578.4 249.0C581.7 248.9 586.7 249.0 590.0 249.0C593.3 249.0 592.5 249.0 598.0 249.2C603.5 249.4 618.7 249.9 622.8 250.0" fill="none" stroke="#b41c1c" stroke-width="1.35" stroke-linejoin="round"/><path d="M681.0 250.5L686.0 246.8" fill="none" stroke="#b41c1c" stroke-width="1.35" stroke-linejoin="round"/><text transform="translate(478.8 54.0) rotate(-80)" text-anchor="middle" y="1.8" font-size="5.2" fill="#444" stroke="#fff" stroke-width="2.2" paint-order="stroke" font-family="Liberation Serif, serif">205.1</text><text transform="translate(524.8 84.6) rotate(3)" text-anchor="middle" y="1.8" font-size="5.2" fill="#444" stroke="#fff" stroke-width="2.2" paint-order="stroke" font-family="Liberation Serif, serif">205.1</text><text transform="translate(574.0 59.5) rotate(60)" text-anchor="middle" y="1.8" font-size="5.2" fill="#444" stroke="#fff" stroke-width="2.2" paint-order="stroke" font-family="Liberation Serif, serif">205.1</text><text transform="translate(484.5 100.0) rotate(-55)" text-anchor="middle" y="1.8" font-size="5.2" fill="#444" stroke="#fff" stroke-width="2.2" paint-order="stroke" font-family="Liberation Serif, serif">207.1</text><text transform="translate(543.5 97.0) rotate(-35)" text-anchor="middle" y="1.8" font-size="5.2" fill="#444" stroke="#fff" stroke-width="2.2" paint-order="stroke" font-family="Liberation Serif, serif">207.1</text><text transform="translate(585.0 54.5) rotate(75)" text-anchor="middle" y="1.8" font-size="5.2" fill="#444" stroke="#fff" stroke-width="2.2" paint-order="stroke" font-family="Liberation Serif, serif">207.1</text><text transform="translate(454.2 58.0) rotate(75)" text-anchor="middle" y="1.8" font-size="5.2" fill="#444" stroke="#fff" stroke-width="2.2" paint-order="stroke" font-family="Liberation Serif, serif">208.1</text><text transform="translate(473.0 106.0) rotate(38)" text-anchor="middle" y="1.8" font-size="5.2" fill="#444" stroke="#fff" stroke-width="2.2" paint-order="stroke" font-family="Liberation Serif, serif">209.1</text><text transform="translate(533.8 118.8) rotate(-18)" text-anchor="middle" y="1.8" font-size="5.2" fill="#444" stroke="#fff" stroke-width="2.2" paint-order="stroke" font-family="Liberation Serif, serif">209.1</text><text transform="translate(583.0 80.8) rotate(-55)" text-anchor="middle" y="1.8" font-size="5.2" fill="#444" stroke="#fff" stroke-width="2.2" paint-order="stroke" font-family="Liberation Serif, serif">209.1</text><text transform="translate(453.0 109.5) rotate(35)" text-anchor="middle" y="1.8" font-size="5.2" fill="#444" stroke="#fff" stroke-width="2.2" paint-order="stroke" font-family="Liberation Serif, serif">211.1</text><text transform="translate(512.7 129.5) rotate(0)" text-anchor="middle" y="1.8" font-size="5.2" fill="#444" stroke="#fff" stroke-width="2.2" paint-order="stroke" font-family="Liberation Serif, serif">211.1</text><text transform="translate(571.0 108.5) rotate(-40)" text-anchor="middle" y="1.8" font-size="5.2" fill="#444" stroke="#fff" stroke-width="2.2" paint-order="stroke" font-family="Liberation Serif, serif">211.1</text><text transform="translate(607.3 62.0) rotate(85)" text-anchor="middle" y="1.8" font-size="5.2" fill="#444" stroke="#fff" stroke-width="2.2" paint-order="stroke" font-family="Liberation Serif, serif">211.1</text><text transform="translate(428.5 68.0) rotate(-88)" text-anchor="middle" y="1.8" font-size="5.2" fill="#444" stroke="#fff" stroke-width="2.2" paint-order="stroke" font-family="Liberation Serif, serif">213.1</text><text transform="translate(446.5 120.0) rotate(25)" text-anchor="middle" y="1.8" font-size="5.2" fill="#444" stroke="#fff" stroke-width="2.2" paint-order="stroke" font-family="Liberation Serif, serif">213.1</text><text transform="translate(506.5 135.3) rotate(0)" text-anchor="middle" y="1.8" font-size="5.2" fill="#444" stroke="#fff" stroke-width="2.2" paint-order="stroke" font-family="Liberation Serif, serif">213.1</text><text transform="translate(566.5 122.5) rotate(-35)" text-anchor="middle" y="1.8" font-size="5.2" fill="#444" stroke="#fff" stroke-width="2.2" paint-order="stroke" font-family="Liberation Serif, serif">213.1</text><text transform="translate(609.7 78.5) rotate(-65)" text-anchor="middle" y="1.8" font-size="5.2" fill="#444" stroke="#fff" stroke-width="2.2" paint-order="stroke" font-family="Liberation Serif, serif">213.1</text><text transform="translate(414.8 69.5) rotate(-75)" text-anchor="middle" y="1.8" font-size="5.2" fill="#444" stroke="#fff" stroke-width="2.2" paint-order="stroke" font-family="Liberation Serif, serif">218</text><text transform="translate(406.8 126.0) rotate(85)" text-anchor="middle" y="1.8" font-size="5.2" fill="#444" stroke="#fff" stroke-width="2.2" paint-order="stroke" font-family="Liberation Serif, serif">218</text><text transform="translate(461.4 152.5) rotate(3)" text-anchor="middle" y="1.8" font-size="5.2" fill="#444" stroke="#fff" stroke-width="2.2" paint-order="stroke" font-family="Liberation Serif, serif">218</text><text transform="translate(524.7 151.0) rotate(-5)" text-anchor="middle" y="1.8" font-size="5.2" fill="#444" stroke="#fff" stroke-width="2.2" paint-order="stroke" font-family="Liberation Serif, serif">218</text><text transform="translate(583.7 132.5) rotate(-30)" text-anchor="middle" y="1.8" font-size="5.2" fill="#444" stroke="#fff" stroke-width="2.2" paint-order="stroke" font-family="Liberation Serif, serif">218</text><text transform="translate(631.5 88.0) rotate(-60)" text-anchor="middle" y="1.8" font-size="5.2" fill="#444" stroke="#fff" stroke-width="2.2" paint-order="stroke" font-family="Liberation Serif, serif">218</text><text transform="translate(417.5 187.0) rotate(0)" text-anchor="middle" y="1.8" font-size="5.2" fill="#444" stroke="#fff" stroke-width="2.2" paint-order="stroke" font-family="Liberation Serif, serif">236</text><text transform="translate(479.4 183.4) rotate(0)" text-anchor="middle" y="1.8" font-size="5.2" fill="#444" stroke="#fff" stroke-width="2.2" paint-order="stroke" font-family="Liberation Serif, serif">236</text><text transform="translate(540.7 176.0) rotate(-3)" text-anchor="middle" y="1.8" font-size="5.2" fill="#444" stroke="#fff" stroke-width="2.2" paint-order="stroke" font-family="Liberation Serif, serif">236</text><text transform="translate(602.0 164.3) rotate(-12)" text-anchor="middle" y="1.8" font-size="5.2" fill="#444" stroke="#fff" stroke-width="2.2" paint-order="stroke" font-family="Liberation Serif, serif">236</text><text transform="translate(660.0 136.5) rotate(-25)" text-anchor="middle" y="1.8" font-size="5.2" fill="#444" stroke="#fff" stroke-width="2.2" paint-order="stroke" font-family="Liberation Serif, serif">236</text><text transform="translate(418.0 214.4) rotate(0)" text-anchor="middle" y="1.8" font-size="5.2" fill="#444" stroke="#fff" stroke-width="2.2" paint-order="stroke" font-family="Liberation Serif, serif">254</text><text transform="translate(477.5 211.0) rotate(0)" text-anchor="middle" y="1.8" font-size="5.2" fill="#444" stroke="#fff" stroke-width="2.2" paint-order="stroke" font-family="Liberation Serif, serif">254</text><text transform="translate(540.0 200.5) rotate(-8)" text-anchor="middle" y="1.8" font-size="5.2" fill="#444" stroke="#fff" stroke-width="2.2" paint-order="stroke" font-family="Liberation Serif, serif">254</text><text transform="translate(600.0 184.5) rotate(-15)" text-anchor="middle" y="1.8" font-size="5.2" fill="#444" stroke="#fff" stroke-width="2.2" paint-order="stroke" font-family="Liberation Serif, serif">254</text><text transform="translate(663.0 165.5) rotate(-25)" text-anchor="middle" y="1.8" font-size="5.2" fill="#444" stroke="#fff" stroke-width="2.2" paint-order="stroke" font-family="Liberation Serif, serif">254</text><text transform="translate(415.5 222.7) rotate(0)" text-anchor="middle" y="1.8" font-size="5.2" fill="#444" stroke="#fff" stroke-width="2.2" paint-order="stroke" font-family="Liberation Serif, serif">272</text><text transform="translate(477.0 217.8) rotate(0)" text-anchor="middle" y="1.8" font-size="5.2" fill="#444" stroke="#fff" stroke-width="2.2" paint-order="stroke" font-family="Liberation Serif, serif">272</text><text transform="translate(540.0 213.8) rotate(0)" text-anchor="middle" y="1.8" font-size="5.2" fill="#444" stroke="#fff" stroke-width="2.2" paint-order="stroke" font-family="Liberation Serif, serif">272</text><text transform="translate(601.8 201.4) rotate(-25)" text-anchor="middle" y="1.8" font-size="5.2" fill="#444" stroke="#fff" stroke-width="2.2" paint-order="stroke" font-family="Liberation Serif, serif">272</text><text transform="translate(661.2 182.6) rotate(-8)" text-anchor="middle" y="1.8" font-size="5.2" fill="#444" stroke="#fff" stroke-width="2.2" paint-order="stroke" font-family="Liberation Serif, serif">272</text><text transform="translate(415.5 227.6) rotate(0)" text-anchor="middle" y="1.8" font-size="5.2" fill="#444" stroke="#fff" stroke-width="2.2" paint-order="stroke" font-family="Liberation Serif, serif">290</text><text transform="translate(477.0 222.4) rotate(0)" text-anchor="middle" y="1.8" font-size="5.2" fill="#444" stroke="#fff" stroke-width="2.2" paint-order="stroke" font-family="Liberation Serif, serif">290</text><text transform="translate(540.0 218.8) rotate(0)" text-anchor="middle" y="1.8" font-size="5.2" fill="#444" stroke="#fff" stroke-width="2.2" paint-order="stroke" font-family="Liberation Serif, serif">290</text><text transform="translate(603.2 214.2) rotate(-5)" text-anchor="middle" y="1.8" font-size="5.2" fill="#444" stroke="#fff" stroke-width="2.2" paint-order="stroke" font-family="Liberation Serif, serif">290</text><text transform="translate(662.4 193.6) rotate(-8)" text-anchor="middle" y="1.8" font-size="5.2" fill="#444" stroke="#fff" stroke-width="2.2" paint-order="stroke" font-family="Liberation Serif, serif">290</text><text transform="translate(415.5 232.3) rotate(0)" text-anchor="middle" y="1.8" font-size="5.2" fill="#444" stroke="#fff" stroke-width="2.2" paint-order="stroke" font-family="Liberation Serif, serif">308</text><text transform="translate(477.0 227.8) rotate(0)" text-anchor="middle" y="1.8" font-size="5.2" fill="#444" stroke="#fff" stroke-width="2.2" paint-order="stroke" font-family="Liberation Serif, serif">308</text><text transform="translate(540.0 223.1) rotate(0)" text-anchor="middle" y="1.8" font-size="5.2" fill="#444" stroke="#fff" stroke-width="2.2" paint-order="stroke" font-family="Liberation Serif, serif">308</text><text transform="translate(604.0 219.8) rotate(-3)" text-anchor="middle" y="1.8" font-size="5.2" fill="#444" stroke="#fff" stroke-width="2.2" paint-order="stroke" font-family="Liberation Serif, serif">308</text><text transform="translate(664.5 204.5) rotate(-15)" text-anchor="middle" y="1.8" font-size="5.2" fill="#444" stroke="#fff" stroke-width="2.2" paint-order="stroke" font-family="Liberation Serif, serif">308</text><text transform="translate(415.5 237.0) rotate(0)" text-anchor="middle" y="1.8" font-size="5.2" fill="#444" stroke="#fff" stroke-width="2.2" paint-order="stroke" font-family="Liberation Serif, serif">326</text><text transform="translate(477.0 232.6) rotate(0)" text-anchor="middle" y="1.8" font-size="5.2" fill="#444" stroke="#fff" stroke-width="2.2" paint-order="stroke" font-family="Liberation Serif, serif">326</text><text transform="translate(540.0 227.6) rotate(0)" text-anchor="middle" y="1.8" font-size="5.2" fill="#444" stroke="#fff" stroke-width="2.2" paint-order="stroke" font-family="Liberation Serif, serif">326</text><text transform="translate(604.0 222.9) rotate(-3)" text-anchor="middle" y="1.8" font-size="5.2" fill="#444" stroke="#fff" stroke-width="2.2" paint-order="stroke" font-family="Liberation Serif, serif">326</text><text transform="translate(665.0 214.0) rotate(-20)" text-anchor="middle" y="1.8" font-size="5.2" fill="#444" stroke="#fff" stroke-width="2.2" paint-order="stroke" font-family="Liberation Serif, serif">326</text><text transform="translate(415.5 241.6) rotate(0)" text-anchor="middle" y="1.8" font-size="5.2" fill="#444" stroke="#fff" stroke-width="2.2" paint-order="stroke" font-family="Liberation Serif, serif">344</text><text transform="translate(477.0 237.7) rotate(0)" text-anchor="middle" y="1.8" font-size="5.2" fill="#444" stroke="#fff" stroke-width="2.2" paint-order="stroke" font-family="Liberation Serif, serif">344</text><text transform="translate(540.0 232.7) rotate(0)" text-anchor="middle" y="1.8" font-size="5.2" fill="#444" stroke="#fff" stroke-width="2.2" paint-order="stroke" font-family="Liberation Serif, serif">344</text><text transform="translate(604.0 226.4) rotate(0)" text-anchor="middle" y="1.8" font-size="5.2" fill="#444" stroke="#fff" stroke-width="2.2" paint-order="stroke" font-family="Liberation Serif, serif">344</text><text transform="translate(665.5 223.3) rotate(-15)" text-anchor="middle" y="1.8" font-size="5.2" fill="#444" stroke="#fff" stroke-width="2.2" paint-order="stroke" font-family="Liberation Serif, serif">344</text><text transform="translate(415.5 246.8) rotate(0)" text-anchor="middle" y="1.8" font-size="5.2" fill="#444" stroke="#fff" stroke-width="2.2" paint-order="stroke" font-family="Liberation Serif, serif">362</text><text transform="translate(478.0 243.1) rotate(0)" text-anchor="middle" y="1.8" font-size="5.2" fill="#444" stroke="#fff" stroke-width="2.2" paint-order="stroke" font-family="Liberation Serif, serif">362</text><text transform="translate(541.0 236.8) rotate(-5)" text-anchor="middle" y="1.8" font-size="5.2" fill="#444" stroke="#fff" stroke-width="2.2" paint-order="stroke" font-family="Liberation Serif, serif">362</text><text transform="translate(603.5 231.2) rotate(0)" text-anchor="middle" y="1.8" font-size="5.2" fill="#444" stroke="#fff" stroke-width="2.2" paint-order="stroke" font-family="Liberation Serif, serif">362</text><text transform="translate(664.5 233.0) rotate(-3)" text-anchor="middle" y="1.8" font-size="5.2" fill="#444" stroke="#fff" stroke-width="2.2" paint-order="stroke" font-family="Liberation Serif, serif">362</text><text transform="translate(470.5 248.0) rotate(-5)" text-anchor="middle" y="1.8" font-size="5.2" fill="#444" stroke="#fff" stroke-width="2.2" paint-order="stroke" font-family="Liberation Serif, serif">380</text><text transform="translate(532.6 241.7) rotate(-5)" text-anchor="middle" y="1.8" font-size="5.2" fill="#444" stroke="#fff" stroke-width="2.2" paint-order="stroke" font-family="Liberation Serif, serif">380</text><text transform="translate(594.7 236.2) rotate(0)" text-anchor="middle" y="1.8" font-size="5.2" fill="#444" stroke="#fff" stroke-width="2.2" paint-order="stroke" font-family="Liberation Serif, serif">380</text><text transform="translate(657.0 240.5) rotate(35)" text-anchor="middle" y="1.8" font-size="5.2" fill="#444" stroke="#fff" stroke-width="2.2" paint-order="stroke" font-family="Liberation Serif, serif">380</text><text transform="translate(506.7 248.3) rotate(-5)" text-anchor="middle" y="1.8" font-size="5.2" fill="#444" stroke="#fff" stroke-width="2.2" paint-order="stroke" font-family="Liberation Serif, serif">398</text><text transform="translate(570.0 241.6) rotate(-5)" text-anchor="middle" y="1.8" font-size="5.2" fill="#444" stroke="#fff" stroke-width="2.2" paint-order="stroke" font-family="Liberation Serif, serif">398</text><text transform="translate(632.2 240.2) rotate(0)" text-anchor="middle" y="1.8" font-size="5.2" fill="#444" stroke="#fff" stroke-width="2.2" paint-order="stroke" font-family="Liberation Serif, serif">398</text><text transform="translate(673.0 244.8) rotate(-40)" text-anchor="middle" y="1.8" font-size="5.2" fill="#444" stroke="#fff" stroke-width="2.2" paint-order="stroke" font-family="Liberation Serif, serif">398</text><text transform="translate(547.2 247.9) rotate(-8)" text-anchor="middle" y="1.8" font-size="5.2" fill="#444" stroke="#fff" stroke-width="2.2" paint-order="stroke" font-family="Liberation Serif, serif">416</text><text transform="translate(609.5 244.6) rotate(0)" text-anchor="middle" y="1.8" font-size="5.2" fill="#444" stroke="#fff" stroke-width="2.2" paint-order="stroke" font-family="Liberation Serif, serif">416</text><text transform="translate(584.8 249.0) rotate(0)" text-anchor="middle" y="1.8" font-size="5.2" fill="#444" stroke="#fff" stroke-width="2.2" paint-order="stroke" font-family="Liberation Serif, serif">434</text><path d="M405.5 57.6 L416.3 51.7 L430.7 45.5 L451.0 38.8 L469.5 33.9 L490.0 31.9 L508.3 27.8 L522.6 26.1 L534.3 25.5 L552.6 30.4 L575.2 37.2 L597.9 42.9 L620.5 48.5 L640.9 53.7 L663.5 65.5 L685.0 82.5" fill="none" stroke="#a236f2" stroke-width="1.8" stroke-linejoin="round"/><path d="M406.1 146.3 L410.1 142.6 L413.5 141.2 L417.6 139.8 L422.3 137.5 L425.7 136.5 L427.8 133.0 L428.5 128.0 L428.5 120.0 L430.0 117.5 L432.5 115.4 L436.0 114.6 L441.0 114.8 L446.0 114.6 L452.3 113.5 L460.0 111.5 L468.0 110.3 L476.5 109.2 L483.0 108.0 L489.3 106.8 L489.6 88.0 L492.8 85.5" fill="none" stroke="#00eef8" stroke-width="1.9"/><path d="M492.9 87 V57.8 Q492.9 55 495.8 55 H500" fill="none" stroke="#1f9af4" stroke-width="3.2"/><path d="M499.0 55.2 L500.4 55.4 L505.0 54.6 L509.6 55.4 L515.8 53.0 L522.0 54.0 L534.2 50.0 L534.5 33.0 L539.6 32.3 L543.5 33.8 L548.8 32.0 L554.2 34.6 L562.0 37.7 L568.0 36.2 L572.7 36.6 L584.2 42.5 L588.0 42.0 L602.7 47.0 L607.3 47.0 L643.3 59.5" fill="none" stroke="#00eef8" stroke-width="1.9"/><g fill="#2cc4bc" stroke="#3aa6a0" stroke-width="0.4"><circle cx="406.1" cy="146.3" r="0.9"/><circle cx="410.1" cy="142.6" r="0.9"/><circle cx="413.5" cy="141.2" r="0.9"/><circle cx="417.6" cy="139.8" r="0.9"/><circle cx="421.0" cy="138.3" r="0.9"/><circle cx="424.5" cy="137.0" r="0.9"/><circle cx="428.4" cy="119.7" r="0.9"/><circle cx="431.5" cy="116.2" r="0.9"/><circle cx="435.0" cy="114.6" r="0.9"/><circle cx="439.5" cy="114.8" r="0.9"/><circle cx="446.0" cy="114.6" r="0.9"/><circle cx="452.3" cy="113.5" r="0.9"/><circle cx="468.0" cy="110.3" r="0.9"/><circle cx="476.5" cy="109.2" r="0.9"/><circle cx="484.0" cy="107.8" r="0.9"/><circle cx="489.5" cy="85.5" r="0.9"/><circle cx="489.5" cy="89.0" r="0.9"/><circle cx="489.5" cy="92.3" r="0.9"/><circle cx="489.5" cy="95.6" r="0.9"/><circle cx="489.5" cy="99.0" r="0.9"/><circle cx="489.5" cy="102.3" r="0.9"/></g><g fill="none" stroke="#ff6428" stroke-width="0.85"><circle cx="406.1" cy="146.3" r="1.4"/><circle cx="410.1" cy="142.6" r="1.4"/><circle cx="413.5" cy="141.2" r="1.4"/><circle cx="417.6" cy="139.8" r="1.4"/><circle cx="419.5" cy="139.0" r="1.4"/><circle cx="421.0" cy="138.3" r="1.4"/><circle cx="422.3" cy="137.6" r="1.4"/><circle cx="423.6" cy="137.2" r="1.4"/><circle cx="425.0" cy="136.8" r="1.4"/><circle cx="426.2" cy="136.0" r="1.4"/><circle cx="427.2" cy="135.0" r="1.4"/><circle cx="428.8" cy="134.5" r="1.4"/><circle cx="428.9" cy="133.8" r="1.4"/><circle cx="429.0" cy="133.1" r="1.4"/><circle cx="429.2" cy="132.4" r="1.4"/><circle cx="428.9" cy="131.7" r="1.4"/><circle cx="429.2" cy="131.0" r="1.4"/><circle cx="427.9" cy="130.3" r="1.4"/><circle cx="428.6" cy="129.6" r="1.4"/><circle cx="429.2" cy="128.9" r="1.4"/><circle cx="428.8" cy="128.2" r="1.4"/><circle cx="429.2" cy="127.5" r="1.4"/><circle cx="428.1" cy="126.8" r="1.4"/><circle cx="428.6" cy="126.1" r="1.4"/><circle cx="428.2" cy="125.4" r="1.4"/><circle cx="428.7" cy="124.7" r="1.4"/><circle cx="428.7" cy="124.0" r="1.4"/><circle cx="427.9" cy="123.3" r="1.4"/><circle cx="428.2" cy="122.6" r="1.4"/><circle cx="428.3" cy="121.9" r="1.4"/><circle cx="429.2" cy="121.2" r="1.4"/><circle cx="429.0" cy="120.5" r="1.4"/><circle cx="428.1" cy="119.8" r="1.4"/><circle cx="429.0" cy="119.1" r="1.4"/><circle cx="428.1" cy="118.4" r="1.4"/><circle cx="429.5" cy="117.3" r="1.4"/><circle cx="430.8" cy="116.3" r="1.4"/><circle cx="432.3" cy="115.6" r="1.4"/><circle cx="434.0" cy="115.0" r="1.4"/><circle cx="436.0" cy="114.8" r="1.4"/><circle cx="438.5" cy="114.8" r="1.4"/><circle cx="441.0" cy="114.8" r="1.4"/><circle cx="425.8" cy="125.6" r="1.4"/><circle cx="424.7" cy="132.6" r="1.4"/><circle cx="431.0" cy="119.7" r="1.4"/><circle cx="431.7" cy="128.3" r="1.4"/><circle cx="436.5" cy="127.2" r="1.4"/><circle cx="436.5" cy="129.4" r="1.4"/><circle cx="438.7" cy="119.1" r="1.4"/><circle cx="430.6" cy="130.4" r="1.4"/><circle cx="426.3" cy="129.5" r="1.4"/><circle cx="426.8" cy="122.5" r="1.4"/><circle cx="438.3" cy="118.7" r="1.4"/><circle cx="452.0" cy="113.2" r="1.4"/><circle cx="458.6" cy="116.0" r="1.4"/><circle cx="458.6" cy="118.7" r="1.4"/><circle cx="466.0" cy="111.0" r="1.4"/><circle cx="468.0" cy="110.4" r="1.4"/><circle cx="469.7" cy="113.2" r="1.4"/><circle cx="473.4" cy="109.5" r="1.4"/><circle cx="475.2" cy="109.5" r="1.4"/><circle cx="479.0" cy="107.3" r="1.4"/><circle cx="487.2" cy="107.3" r="1.4"/><circle cx="477.5" cy="97.5" r="1.4"/><circle cx="479.5" cy="95.0" r="1.4"/><circle cx="481.5" cy="93.3" r="1.4"/><circle cx="489.5" cy="84.0" r="1.4"/><circle cx="489.5" cy="87.3" r="1.4"/><circle cx="489.5" cy="90.6" r="1.4"/><circle cx="489.5" cy="94.0" r="1.4"/><circle cx="489.5" cy="97.3" r="1.4"/><circle cx="489.5" cy="100.6" r="1.4"/><circle cx="489.5" cy="104.0" r="1.4"/><circle cx="486.7" cy="107.3" r="1.4"/><circle cx="491.0" cy="72.0" r="1.4"/><circle cx="492.5" cy="74.5" r="1.4"/><circle cx="490.5" cy="77.0" r="1.4"/><circle cx="492.0" cy="79.0" r="1.4"/><circle cx="489.5" cy="80.5" r="1.4"/><circle cx="491.5" cy="82.0" r="1.4"/><circle cx="488.8" cy="82.5" r="1.4"/><circle cx="493.0" cy="70.5" r="1.4"/></g></g>
<path d="M405.5 3.5 V254.2 H684.5" fill="none" stroke="#c6c6c6" stroke-width="1"/>
<path d="M405.5 246.27h2.6M405.5 219.30h2.6M405.5 192.32h2.6M405.5 165.35h2.6M405.5 138.38h2.6M405.5 111.40h2.6M405.5 84.42h2.6M405.5 57.45h2.6M405.5 30.47h2.6M405.5 3.50h2.6M405.50 254.2v-2.6M448.32 254.2v-2.6M491.14 254.2v-2.6M533.96 254.2v-2.6M576.78 254.2v-2.6M619.60 254.2v-2.6M662.42 254.2v-2.6" stroke="#a4a4a4" stroke-width="1" fill="none"/>
<text x="402.6" y="250.6" text-anchor="end" font-size="10.5" fill="#2e2e2e" font-family="Liberation Sans, sans-serif">50</text>
<text x="402.6" y="223.6" text-anchor="end" font-size="10.5" fill="#2e2e2e" font-family="Liberation Sans, sans-serif">100</text>
<text x="402.6" y="196.6" text-anchor="end" font-size="10.5" fill="#2e2e2e" font-family="Liberation Sans, sans-serif">150</text>
<text x="402.6" y="169.7" text-anchor="end" font-size="10.5" fill="#2e2e2e" font-family="Liberation Sans, sans-serif">200</text>
<text x="402.6" y="142.7" text-anchor="end" font-size="10.5" fill="#2e2e2e" font-family="Liberation Sans, sans-serif">250</text>
<text x="402.6" y="115.7" text-anchor="end" font-size="10.5" fill="#2e2e2e" font-family="Liberation Sans, sans-serif">300</text>
<text x="402.6" y="88.7" text-anchor="end" font-size="10.5" fill="#2e2e2e" font-family="Liberation Sans, sans-serif">350</text>
<text x="402.6" y="61.7" text-anchor="end" font-size="10.5" fill="#2e2e2e" font-family="Liberation Sans, sans-serif">400</text>
<text x="402.6" y="34.8" text-anchor="end" font-size="10.5" fill="#2e2e2e" font-family="Liberation Sans, sans-serif">450</text>
<text x="402.6" y="7.8" text-anchor="end" font-size="10.5" fill="#2e2e2e" font-family="Liberation Sans, sans-serif">500</text>
<text x="405.5" y="268" text-anchor="middle" font-size="10.5" fill="#2e2e2e" font-family="Liberation Sans, sans-serif">1000</text>
<text x="448.3" y="268" text-anchor="middle" font-size="10.5" fill="#2e2e2e" font-family="Liberation Sans, sans-serif">1200</text>
<text x="491.1" y="268" text-anchor="middle" font-size="10.5" fill="#2e2e2e" font-family="Liberation Sans, sans-serif">1400</text>
<text x="534.0" y="268" text-anchor="middle" font-size="10.5" fill="#2e2e2e" font-family="Liberation Sans, sans-serif">1600</text>
<text x="576.8" y="268" text-anchor="middle" font-size="10.5" fill="#2e2e2e" font-family="Liberation Sans, sans-serif">1800</text>
<text x="619.6" y="268" text-anchor="middle" font-size="10.5" fill="#2e2e2e" font-family="Liberation Sans, sans-serif">2000</text>
<text x="662.4" y="268" text-anchor="middle" font-size="10.5" fill="#2e2e2e" font-family="Liberation Sans, sans-serif">2200</text>
<text x="544.8" y="283" text-anchor="middle" font-size="11.6" fill="#2e2e2e" font-family="Liberation Sans, sans-serif">Speed (r/min)</text>
<text transform="translate(380.8 129) rotate(-90)" text-anchor="middle" font-size="11.9" fill="#2e2e2e" font-family="Liberation Sans, sans-serif">Torque (N·m)</text>
<circle cx="513.8" cy="14.1" r="1.4" fill="none" stroke="#4db3f7" stroke-width="0.7"/>
<circle cx="543.5" cy="14.1" r="1.4" fill="none" stroke="#f06a36" stroke-width="0.8"/>
<text x="521.6" y="17.8" font-size="10.3" fill="#111" font-family="Liberation Sans, sans-serif">PF</text>
<text x="551.3" y="17.8" font-size="10.3" fill="#111" font-family="Liberation Sans, sans-serif">DDQN</text>
<text x="538.9" y="321.5" text-anchor="middle" font-size="20" letter-spacing="0.5" fill="#111" font-family="Liberation Serif, serif">(b)</text>
</svg>
</body></html>
